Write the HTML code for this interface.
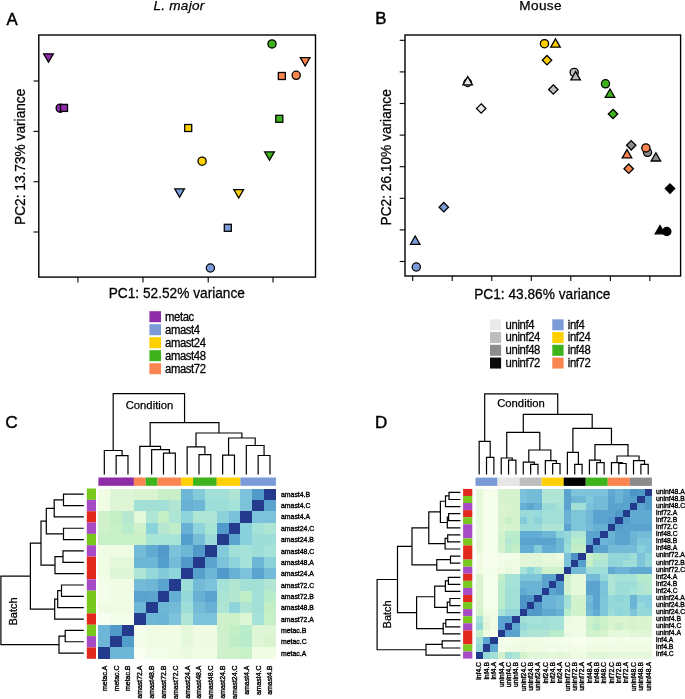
<!DOCTYPE html>
<html><head><meta charset="utf-8"><title>figure</title>
<style>
html,body{margin:0;padding:0;background:#fff;}
body{width:685px;height:699px;overflow:hidden;}
svg{display:block;will-change:transform;}
text{font-family:"Liberation Sans", sans-serif;fill:#000;stroke:#000;stroke-width:0.25px;}
</style></head><body>
<svg width="685" height="699" viewBox="0 0 685 699">
<rect x="0" y="0" width="685" height="699" fill="#fff"/>
<text x="0" y="0" text-anchor="start" style="font-size:16.8px;stroke-width:0.45px;" transform="translate(6.4 24.6) scale(1 0.98)">A</text>
<text x="179" y="10.4" text-anchor="middle" style="font-size:13.6px;letter-spacing:0.25px;font-style:italic;">L. major</text>
<rect x="38.8" y="35" width="276.7" height="242.1" fill="none" stroke="#000" stroke-width="1.4"/>
<line x1="33.5" y1="81" x2="38.8" y2="81" stroke="#000" stroke-width="1.1"/>
<line x1="33.5" y1="131.4" x2="38.8" y2="131.4" stroke="#000" stroke-width="1.1"/>
<line x1="33.5" y1="181.7" x2="38.8" y2="181.7" stroke="#000" stroke-width="1.1"/>
<line x1="33.5" y1="232" x2="38.8" y2="232" stroke="#000" stroke-width="1.1"/>
<line x1="77.9" y1="277.1" x2="77.9" y2="282.4" stroke="#000" stroke-width="1.1"/>
<line x1="143" y1="277.1" x2="143" y2="282.4" stroke="#000" stroke-width="1.1"/>
<line x1="208.2" y1="277.1" x2="208.2" y2="282.4" stroke="#000" stroke-width="1.1"/>
<line x1="273" y1="277.1" x2="273" y2="282.4" stroke="#000" stroke-width="1.1"/>
<text x="0" y="0" text-anchor="middle" style="font-size:13.7px;" transform="translate(176.8 298.4) scale(1 1.08)">PC1: 52.52% variance</text>
<text x="0" y="0" text-anchor="middle" style="font-size:13.7px;" transform="translate(25 156.8) rotate(-90) scale(1 1.08)">PC2: 13.73% variance</text>
<circle cx="60.2" cy="108.2" r="4.1" fill="#8E2CA8" stroke="#000" stroke-width="1.3"/>
<rect x="60.5" y="104.4" width="7" height="7" fill="#8E2CA8" stroke="#000" stroke-width="1.3"/>
<polygon points="43.65,53.8 53.35,53.8 48.5,62.2" fill="#8E2CA8" stroke="#000" stroke-width="1.3" stroke-linejoin="miter"/>
<circle cx="210.4" cy="268" r="4.1" fill="#7B9BD8" stroke="#000" stroke-width="1.3"/>
<rect x="224.3" y="224.3" width="7" height="7" fill="#7B9BD8" stroke="#000" stroke-width="1.3"/>
<polygon points="174.75,188.9 184.45,188.9 179.6,197.3" fill="#7B9BD8" stroke="#000" stroke-width="1.3" stroke-linejoin="miter"/>
<circle cx="202.1" cy="161.2" r="4.1" fill="#FFD000" stroke="#000" stroke-width="1.3"/>
<rect x="184.7" y="124.5" width="7" height="7" fill="#FFD000" stroke="#000" stroke-width="1.3"/>
<polygon points="233.85,189.6 243.55,189.6 238.7,198" fill="#FFD000" stroke="#000" stroke-width="1.3" stroke-linejoin="miter"/>
<circle cx="272" cy="43.9" r="4.1" fill="#3FB31C" stroke="#000" stroke-width="1.3"/>
<rect x="275.8" y="115.3" width="7" height="7" fill="#3FB31C" stroke="#000" stroke-width="1.3"/>
<polygon points="264.65,151.9 274.35,151.9 269.5,160.3" fill="#3FB31C" stroke="#000" stroke-width="1.3" stroke-linejoin="miter"/>
<circle cx="296.2" cy="75.3" r="4.1" fill="#FB8550" stroke="#000" stroke-width="1.3"/>
<rect x="278.35" y="72.5" width="7" height="7" fill="#FB8550" stroke="#000" stroke-width="1.3"/>
<polygon points="300.3,57.6 310,57.6 305.15,66" fill="#FB8550" stroke="#000" stroke-width="1.3" stroke-linejoin="miter"/>
<rect x="149.4" y="311.2" width="11.6" height="11" fill="#8E2CA8"/>
<text x="0" y="0" text-anchor="start" style="font-size:11.3px;letter-spacing:-0.38px;" transform="translate(165 320.8) scale(1 1.05)">metac</text>
<rect x="149.4" y="324.2" width="11.6" height="11" fill="#7B9BD8"/>
<text x="0" y="0" text-anchor="start" style="font-size:11.3px;letter-spacing:-0.38px;" transform="translate(165 333.8) scale(1 1.05)">amast4</text>
<rect x="149.4" y="337.2" width="11.6" height="11" fill="#FFD000"/>
<text x="0" y="0" text-anchor="start" style="font-size:11.3px;letter-spacing:-0.38px;" transform="translate(165 346.8) scale(1 1.05)">amast24</text>
<rect x="149.4" y="350.2" width="11.6" height="11" fill="#3FB31C"/>
<text x="0" y="0" text-anchor="start" style="font-size:11.3px;letter-spacing:-0.38px;" transform="translate(165 359.8) scale(1 1.05)">amast48</text>
<rect x="149.4" y="363.2" width="11.6" height="11" fill="#FB8550"/>
<text x="0" y="0" text-anchor="start" style="font-size:11.3px;letter-spacing:-0.38px;" transform="translate(165 372.8) scale(1 1.05)">amast72</text>
<text x="0" y="0" text-anchor="start" style="font-size:16.8px;stroke-width:0.45px;" transform="translate(375.3 24.2) scale(1 0.98)">B</text>
<text x="540.6" y="9.9" text-anchor="middle" style="font-size:13.6px;letter-spacing:0.35px;">Mouse</text>
<rect x="405" y="35" width="275.6" height="241" fill="none" stroke="#000" stroke-width="1.4"/>
<line x1="399.7" y1="40.3" x2="405" y2="40.3" stroke="#000" stroke-width="1.1"/>
<line x1="399.7" y1="71.9" x2="405" y2="71.9" stroke="#000" stroke-width="1.1"/>
<line x1="399.7" y1="103.5" x2="405" y2="103.5" stroke="#000" stroke-width="1.1"/>
<line x1="399.7" y1="135.1" x2="405" y2="135.1" stroke="#000" stroke-width="1.1"/>
<line x1="399.7" y1="166.7" x2="405" y2="166.7" stroke="#000" stroke-width="1.1"/>
<line x1="399.7" y1="198.3" x2="405" y2="198.3" stroke="#000" stroke-width="1.1"/>
<line x1="399.7" y1="229.9" x2="405" y2="229.9" stroke="#000" stroke-width="1.1"/>
<line x1="399.7" y1="261.5" x2="405" y2="261.5" stroke="#000" stroke-width="1.1"/>
<line x1="412.7" y1="276" x2="412.7" y2="281" stroke="#000" stroke-width="1.1"/>
<line x1="452.23" y1="276" x2="452.23" y2="281" stroke="#000" stroke-width="1.1"/>
<line x1="491.76" y1="276" x2="491.76" y2="281" stroke="#000" stroke-width="1.1"/>
<line x1="531.29" y1="276" x2="531.29" y2="281" stroke="#000" stroke-width="1.1"/>
<line x1="570.82" y1="276" x2="570.82" y2="281" stroke="#000" stroke-width="1.1"/>
<line x1="610.35" y1="276" x2="610.35" y2="281" stroke="#000" stroke-width="1.1"/>
<line x1="649.88" y1="276" x2="649.88" y2="281" stroke="#000" stroke-width="1.1"/>
<text x="0" y="0" text-anchor="middle" style="font-size:13.7px;" transform="translate(542.3 298.6) scale(1 1.08)">PC1: 43.86% variance</text>
<text x="0" y="0" text-anchor="middle" style="font-size:13.7px;" transform="translate(391.4 157.3) rotate(-90) scale(1 1.08)">PC2: 26.10% variance</text>
<circle cx="467.7" cy="82.7" r="3.8" fill="#EAEAEA" stroke="#000" stroke-width="1.3"/>
<polygon points="462.95,84.9 472.45,84.9 467.7,76.6" fill="#EAEAEA" stroke="#000" stroke-width="1.3" stroke-linejoin="miter"/>
<polygon points="481.2,103.8 485.9,108.5 481.2,113.2 476.5,108.5" fill="#EAEAEA" stroke="#000" stroke-width="1.3"/>
<circle cx="574.2" cy="72.4" r="4.1" fill="#BEBEBE" stroke="#000" stroke-width="1.3"/>
<polygon points="570.85,79.9 580.35,79.9 575.6,71.6" fill="#BEBEBE" stroke="#000" stroke-width="1.3" stroke-linejoin="miter"/>
<polygon points="553.3,84.8 558,89.5 553.3,94.2 548.6,89.5" fill="#BEBEBE" stroke="#000" stroke-width="1.3"/>
<circle cx="647.5" cy="152.3" r="4.1" fill="#8C8C8C" stroke="#000" stroke-width="1.3"/>
<polygon points="651.15,161 660.65,161 655.9,152.7" fill="#8C8C8C" stroke="#000" stroke-width="1.3" stroke-linejoin="miter"/>
<polygon points="631.2,140.6 635.9,145.3 631.2,150 626.5,145.3" fill="#8C8C8C" stroke="#000" stroke-width="1.3"/>
<circle cx="666.8" cy="231.5" r="4.1" fill="#000000" stroke="#000" stroke-width="1.3"/>
<polygon points="655.25,233.8 664.75,233.8 660,225.5" fill="#000000" stroke="#000" stroke-width="1.3" stroke-linejoin="miter"/>
<polygon points="670,183.9 674.7,188.6 670,193.3 665.3,188.6" fill="#000000" stroke="#000" stroke-width="1.3"/>
<circle cx="416.3" cy="267" r="4.1" fill="#7B9BD8" stroke="#000" stroke-width="1.3"/>
<polygon points="410.45,244.3 419.95,244.3 415.2,236" fill="#7B9BD8" stroke="#000" stroke-width="1.3" stroke-linejoin="miter"/>
<polygon points="443.8,202.5 448.5,207.2 443.8,211.9 439.1,207.2" fill="#7B9BD8" stroke="#000" stroke-width="1.3"/>
<circle cx="544.5" cy="43.7" r="4.1" fill="#FFD000" stroke="#000" stroke-width="1.3"/>
<polygon points="550.75,47.2 560.25,47.2 555.5,38.9" fill="#FFD000" stroke="#000" stroke-width="1.3" stroke-linejoin="miter"/>
<polygon points="547,55.5 551.7,60.2 547,64.9 542.3,60.2" fill="#FFD000" stroke="#000" stroke-width="1.3"/>
<circle cx="605.5" cy="83.8" r="4.1" fill="#3FB31C" stroke="#000" stroke-width="1.3"/>
<polygon points="605.25,97.3 614.75,97.3 610,89" fill="#3FB31C" stroke="#000" stroke-width="1.3" stroke-linejoin="miter"/>
<polygon points="613,109.3 617.7,114 613,118.7 608.3,114" fill="#3FB31C" stroke="#000" stroke-width="1.3"/>
<circle cx="645.9" cy="147.9" r="4.1" fill="#FB8550" stroke="#000" stroke-width="1.3"/>
<polygon points="622.25,157.9 631.75,157.9 627,149.6" fill="#FB8550" stroke="#000" stroke-width="1.3" stroke-linejoin="miter"/>
<polygon points="628.7,164 633.4,168.7 628.7,173.4 624,168.7" fill="#FB8550" stroke="#000" stroke-width="1.3"/>
<rect x="490" y="319.3" width="11.1" height="11" fill="#EAEAEA"/>
<text x="0" y="0" text-anchor="start" style="font-size:11.3px;letter-spacing:-0.38px;" transform="translate(505.6 328.7) scale(1 1.05)">uninf4</text>
<rect x="490" y="332.05" width="11.1" height="11" fill="#BEBEBE"/>
<text x="0" y="0" text-anchor="start" style="font-size:11.3px;letter-spacing:-0.38px;" transform="translate(505.6 341.45) scale(1 1.05)">uninf24</text>
<rect x="490" y="344.8" width="11.1" height="11" fill="#8C8C8C"/>
<text x="0" y="0" text-anchor="start" style="font-size:11.3px;letter-spacing:-0.38px;" transform="translate(505.6 354.2) scale(1 1.05)">uninf48</text>
<rect x="490" y="357.55" width="11.1" height="11" fill="#0A0A0A"/>
<text x="0" y="0" text-anchor="start" style="font-size:11.3px;letter-spacing:-0.38px;" transform="translate(505.6 366.95) scale(1 1.05)">uninf72</text>
<rect x="552.3" y="319.3" width="11.3" height="11" fill="#7B9BD8"/>
<text x="0" y="0" text-anchor="start" style="font-size:11.3px;letter-spacing:-0.38px;" transform="translate(567.8 328.7) scale(1 1.05)">inf4</text>
<rect x="552.3" y="332.05" width="11.3" height="11" fill="#FFD000"/>
<text x="0" y="0" text-anchor="start" style="font-size:11.3px;letter-spacing:-0.38px;" transform="translate(567.8 341.45) scale(1 1.05)">inf24</text>
<rect x="552.3" y="344.8" width="11.3" height="11" fill="#3FB31C"/>
<text x="0" y="0" text-anchor="start" style="font-size:11.3px;letter-spacing:-0.38px;" transform="translate(567.8 354.2) scale(1 1.05)">inf48</text>
<rect x="552.3" y="357.55" width="11.3" height="11" fill="#FB8550"/>
<text x="0" y="0" text-anchor="start" style="font-size:11.3px;letter-spacing:-0.38px;" transform="translate(567.8 366.95) scale(1 1.05)">inf72</text>
<text x="0" y="0" text-anchor="start" style="font-size:17.3px;stroke-width:0.45px;" transform="translate(5.2 427.9) scale(1 0.99)">C</text>
<g shape-rendering="crispEdges">
<rect x="98.4" y="488.5" width="12.23" height="11.75" fill="#F1FCE5"/>
<rect x="110.23" y="488.5" width="12.23" height="11.75" fill="#DEF6D5"/>
<rect x="122.07" y="488.5" width="12.23" height="11.75" fill="#DEF6D5"/>
<rect x="133.9" y="488.5" width="12.23" height="11.75" fill="#DAF4D0"/>
<rect x="145.73" y="488.5" width="12.23" height="11.75" fill="#DAF4D0"/>
<rect x="157.57" y="488.5" width="12.23" height="11.75" fill="#C8F0C8"/>
<rect x="169.4" y="488.5" width="12.23" height="11.75" fill="#C8F0C8"/>
<rect x="181.23" y="488.5" width="12.23" height="11.75" fill="#6EB6D6"/>
<rect x="193.07" y="488.5" width="12.23" height="11.75" fill="#83CADB"/>
<rect x="204.9" y="488.5" width="12.23" height="11.75" fill="#A2E0D7"/>
<rect x="216.73" y="488.5" width="12.23" height="11.75" fill="#A2E0D7"/>
<rect x="228.57" y="488.5" width="12.23" height="11.75" fill="#AFE5D4"/>
<rect x="240.4" y="488.5" width="12.23" height="11.75" fill="#7CC2DA"/>
<rect x="252.23" y="488.5" width="12.23" height="11.75" fill="#5099C9"/>
<rect x="264.07" y="488.5" width="12.23" height="11.75" fill="#243A8C"/>
<rect x="98.4" y="499.85" width="12.23" height="11.75" fill="#F1FCE5"/>
<rect x="110.23" y="499.85" width="12.23" height="11.75" fill="#DEF6D5"/>
<rect x="122.07" y="499.85" width="12.23" height="11.75" fill="#DEF6D5"/>
<rect x="133.9" y="499.85" width="12.23" height="11.75" fill="#A2E0D7"/>
<rect x="145.73" y="499.85" width="12.23" height="11.75" fill="#A2E0D7"/>
<rect x="157.57" y="499.85" width="12.23" height="11.75" fill="#A2E0D7"/>
<rect x="169.4" y="499.85" width="12.23" height="11.75" fill="#B2E6D3"/>
<rect x="181.23" y="499.85" width="12.23" height="11.75" fill="#68B1D4"/>
<rect x="193.07" y="499.85" width="12.23" height="11.75" fill="#6EB6D6"/>
<rect x="204.9" y="499.85" width="12.23" height="11.75" fill="#9EDED8"/>
<rect x="216.73" y="499.85" width="12.23" height="11.75" fill="#9EDED8"/>
<rect x="228.57" y="499.85" width="12.23" height="11.75" fill="#A5E2D7"/>
<rect x="240.4" y="499.85" width="12.23" height="11.75" fill="#7CC2DA"/>
<rect x="252.23" y="499.85" width="12.23" height="11.75" fill="#243A8C"/>
<rect x="264.07" y="499.85" width="12.23" height="11.75" fill="#59A3CE"/>
<rect x="98.4" y="511.21" width="12.23" height="11.75" fill="#CEF1CB"/>
<rect x="110.23" y="511.21" width="12.23" height="11.75" fill="#C3EEC6"/>
<rect x="122.07" y="511.21" width="12.23" height="11.75" fill="#B8E7D1"/>
<rect x="133.9" y="511.21" width="12.23" height="11.75" fill="#E3F7D9"/>
<rect x="145.73" y="511.21" width="12.23" height="11.75" fill="#AFE5D4"/>
<rect x="157.57" y="511.21" width="12.23" height="11.75" fill="#C3EEC6"/>
<rect x="169.4" y="511.21" width="12.23" height="11.75" fill="#AFE5D4"/>
<rect x="181.23" y="511.21" width="12.23" height="11.75" fill="#8ED4DB"/>
<rect x="193.07" y="511.21" width="12.23" height="11.75" fill="#AFE5D4"/>
<rect x="204.9" y="511.21" width="12.23" height="11.75" fill="#AFE5D4"/>
<rect x="216.73" y="511.21" width="12.23" height="11.75" fill="#8BD2DB"/>
<rect x="228.57" y="511.21" width="12.23" height="11.75" fill="#79C0D9"/>
<rect x="240.4" y="511.21" width="12.23" height="11.75" fill="#243A8C"/>
<rect x="252.23" y="511.21" width="12.23" height="11.75" fill="#7CC2DA"/>
<rect x="264.07" y="511.21" width="12.23" height="11.75" fill="#7CC2DA"/>
<rect x="98.4" y="522.56" width="12.23" height="11.75" fill="#CEF1CB"/>
<rect x="110.23" y="522.56" width="12.23" height="11.75" fill="#C8F0C8"/>
<rect x="122.07" y="522.56" width="12.23" height="11.75" fill="#B9ECCA"/>
<rect x="133.9" y="522.56" width="12.23" height="11.75" fill="#CEF1CB"/>
<rect x="145.73" y="522.56" width="12.23" height="11.75" fill="#8BD2DB"/>
<rect x="157.57" y="522.56" width="12.23" height="11.75" fill="#B8E7D1"/>
<rect x="169.4" y="522.56" width="12.23" height="11.75" fill="#BEEDC8"/>
<rect x="181.23" y="522.56" width="12.23" height="11.75" fill="#68B1D4"/>
<rect x="193.07" y="522.56" width="12.23" height="11.75" fill="#8ED4DB"/>
<rect x="204.9" y="522.56" width="12.23" height="11.75" fill="#A8E4D6"/>
<rect x="216.73" y="522.56" width="12.23" height="11.75" fill="#5099C9"/>
<rect x="228.57" y="522.56" width="12.23" height="11.75" fill="#243A8C"/>
<rect x="240.4" y="522.56" width="12.23" height="11.75" fill="#88D0DC"/>
<rect x="252.23" y="522.56" width="12.23" height="11.75" fill="#A5E2D7"/>
<rect x="264.07" y="522.56" width="12.23" height="11.75" fill="#AFE5D4"/>
<rect x="98.4" y="533.91" width="12.23" height="11.75" fill="#C8F0C8"/>
<rect x="110.23" y="533.91" width="12.23" height="11.75" fill="#C8F0C8"/>
<rect x="122.07" y="533.91" width="12.23" height="11.75" fill="#C8F0C8"/>
<rect x="133.9" y="533.91" width="12.23" height="11.75" fill="#C8F0C8"/>
<rect x="145.73" y="533.91" width="12.23" height="11.75" fill="#A8E4D6"/>
<rect x="157.57" y="533.91" width="12.23" height="11.75" fill="#A8E4D6"/>
<rect x="169.4" y="533.91" width="12.23" height="11.75" fill="#A8E4D6"/>
<rect x="181.23" y="533.91" width="12.23" height="11.75" fill="#549ECB"/>
<rect x="193.07" y="533.91" width="12.23" height="11.75" fill="#76BDD8"/>
<rect x="204.9" y="533.91" width="12.23" height="11.75" fill="#9BDCD8"/>
<rect x="216.73" y="533.91" width="12.23" height="11.75" fill="#243A8C"/>
<rect x="228.57" y="533.91" width="12.23" height="11.75" fill="#59A3CE"/>
<rect x="240.4" y="533.91" width="12.23" height="11.75" fill="#88D0DC"/>
<rect x="252.23" y="533.91" width="12.23" height="11.75" fill="#9EDED8"/>
<rect x="264.07" y="533.91" width="12.23" height="11.75" fill="#9EDED8"/>
<rect x="98.4" y="545.27" width="12.23" height="11.75" fill="#F1FCE7"/>
<rect x="110.23" y="545.27" width="12.23" height="11.75" fill="#EFFBE2"/>
<rect x="122.07" y="545.27" width="12.23" height="11.75" fill="#EFFBE2"/>
<rect x="133.9" y="545.27" width="12.23" height="11.75" fill="#74BBD8"/>
<rect x="145.73" y="545.27" width="12.23" height="11.75" fill="#60AAD2"/>
<rect x="157.57" y="545.27" width="12.23" height="11.75" fill="#5099C9"/>
<rect x="169.4" y="545.27" width="12.23" height="11.75" fill="#7CC2DA"/>
<rect x="181.23" y="545.27" width="12.23" height="11.75" fill="#6EB6D6"/>
<rect x="193.07" y="545.27" width="12.23" height="11.75" fill="#5099C9"/>
<rect x="204.9" y="545.27" width="12.23" height="11.75" fill="#243A8C"/>
<rect x="216.73" y="545.27" width="12.23" height="11.75" fill="#83CADB"/>
<rect x="228.57" y="545.27" width="12.23" height="11.75" fill="#A2E0D7"/>
<rect x="240.4" y="545.27" width="12.23" height="11.75" fill="#A5E2D7"/>
<rect x="252.23" y="545.27" width="12.23" height="11.75" fill="#9EDED8"/>
<rect x="264.07" y="545.27" width="12.23" height="11.75" fill="#A5E2D7"/>
<rect x="98.4" y="556.62" width="12.23" height="11.75" fill="#F1FCE5"/>
<rect x="110.23" y="556.62" width="12.23" height="11.75" fill="#E5F8DC"/>
<rect x="122.07" y="556.62" width="12.23" height="11.75" fill="#E5F8DC"/>
<rect x="133.9" y="556.62" width="12.23" height="11.75" fill="#6EB6D6"/>
<rect x="145.73" y="556.62" width="12.23" height="11.75" fill="#6EB6D6"/>
<rect x="157.57" y="556.62" width="12.23" height="11.75" fill="#549ECB"/>
<rect x="169.4" y="556.62" width="12.23" height="11.75" fill="#74BBD8"/>
<rect x="181.23" y="556.62" width="12.23" height="11.75" fill="#5099C9"/>
<rect x="193.07" y="556.62" width="12.23" height="11.75" fill="#243A8C"/>
<rect x="204.9" y="556.62" width="12.23" height="11.75" fill="#59A3CE"/>
<rect x="216.73" y="556.62" width="12.23" height="11.75" fill="#7CC2DA"/>
<rect x="228.57" y="556.62" width="12.23" height="11.75" fill="#8ED4DB"/>
<rect x="240.4" y="556.62" width="12.23" height="11.75" fill="#A5E2D7"/>
<rect x="252.23" y="556.62" width="12.23" height="11.75" fill="#6EB6D6"/>
<rect x="264.07" y="556.62" width="12.23" height="11.75" fill="#8BD2DB"/>
<rect x="98.4" y="567.97" width="12.23" height="11.75" fill="#F1FCE5"/>
<rect x="110.23" y="567.97" width="12.23" height="11.75" fill="#DEF6D5"/>
<rect x="122.07" y="567.97" width="12.23" height="11.75" fill="#DEF6D5"/>
<rect x="133.9" y="567.97" width="12.23" height="11.75" fill="#AFE5D4"/>
<rect x="145.73" y="567.97" width="12.23" height="11.75" fill="#95D8DA"/>
<rect x="157.57" y="567.97" width="12.23" height="11.75" fill="#83CADB"/>
<rect x="169.4" y="567.97" width="12.23" height="11.75" fill="#8ED4DB"/>
<rect x="181.23" y="567.97" width="12.23" height="11.75" fill="#243A8C"/>
<rect x="193.07" y="567.97" width="12.23" height="11.75" fill="#56A0CC"/>
<rect x="204.9" y="567.97" width="12.23" height="11.75" fill="#6EB6D6"/>
<rect x="216.73" y="567.97" width="12.23" height="11.75" fill="#5099C9"/>
<rect x="228.57" y="567.97" width="12.23" height="11.75" fill="#68B1D4"/>
<rect x="240.4" y="567.97" width="12.23" height="11.75" fill="#7CC2DA"/>
<rect x="252.23" y="567.97" width="12.23" height="11.75" fill="#59A3CE"/>
<rect x="264.07" y="567.97" width="12.23" height="11.75" fill="#74BBD8"/>
<rect x="98.4" y="579.33" width="12.23" height="11.75" fill="#F3FDE9"/>
<rect x="110.23" y="579.33" width="12.23" height="11.75" fill="#F1FCE5"/>
<rect x="122.07" y="579.33" width="12.23" height="11.75" fill="#F1FCE5"/>
<rect x="133.9" y="579.33" width="12.23" height="11.75" fill="#74BBD8"/>
<rect x="145.73" y="579.33" width="12.23" height="11.75" fill="#6EB6D6"/>
<rect x="157.57" y="579.33" width="12.23" height="11.75" fill="#59A3CE"/>
<rect x="169.4" y="579.33" width="12.23" height="11.75" fill="#243A8C"/>
<rect x="181.23" y="579.33" width="12.23" height="11.75" fill="#9EDED8"/>
<rect x="193.07" y="579.33" width="12.23" height="11.75" fill="#74BBD8"/>
<rect x="204.9" y="579.33" width="12.23" height="11.75" fill="#7CC2DA"/>
<rect x="216.73" y="579.33" width="12.23" height="11.75" fill="#A5E2D7"/>
<rect x="228.57" y="579.33" width="12.23" height="11.75" fill="#B2E6D3"/>
<rect x="240.4" y="579.33" width="12.23" height="11.75" fill="#A2E0D7"/>
<rect x="252.23" y="579.33" width="12.23" height="11.75" fill="#A2E0D7"/>
<rect x="264.07" y="579.33" width="12.23" height="11.75" fill="#B2E6D3"/>
<rect x="98.4" y="590.68" width="12.23" height="11.75" fill="#F3FDE9"/>
<rect x="110.23" y="590.68" width="12.23" height="11.75" fill="#F1FCE5"/>
<rect x="122.07" y="590.68" width="12.23" height="11.75" fill="#F1FCE5"/>
<rect x="133.9" y="590.68" width="12.23" height="11.75" fill="#59A3CE"/>
<rect x="145.73" y="590.68" width="12.23" height="11.75" fill="#5BA5CF"/>
<rect x="157.57" y="590.68" width="12.23" height="11.75" fill="#243A8C"/>
<rect x="169.4" y="590.68" width="12.23" height="11.75" fill="#66AFD4"/>
<rect x="181.23" y="590.68" width="12.23" height="11.75" fill="#95D8DA"/>
<rect x="193.07" y="590.68" width="12.23" height="11.75" fill="#68B1D4"/>
<rect x="204.9" y="590.68" width="12.23" height="11.75" fill="#59A3CE"/>
<rect x="216.73" y="590.68" width="12.23" height="11.75" fill="#AAE4D5"/>
<rect x="228.57" y="590.68" width="12.23" height="11.75" fill="#B4E6D2"/>
<rect x="240.4" y="590.68" width="12.23" height="11.75" fill="#BEEDC8"/>
<rect x="252.23" y="590.68" width="12.23" height="11.75" fill="#A2E0D7"/>
<rect x="264.07" y="590.68" width="12.23" height="11.75" fill="#B9ECCA"/>
<rect x="98.4" y="602.03" width="12.23" height="11.75" fill="#EFFBE2"/>
<rect x="110.23" y="602.03" width="12.23" height="11.75" fill="#EFFBE2"/>
<rect x="122.07" y="602.03" width="12.23" height="11.75" fill="#EFFBE2"/>
<rect x="133.9" y="602.03" width="12.23" height="11.75" fill="#6EB6D6"/>
<rect x="145.73" y="602.03" width="12.23" height="11.75" fill="#243A8C"/>
<rect x="157.57" y="602.03" width="12.23" height="11.75" fill="#6EB6D6"/>
<rect x="169.4" y="602.03" width="12.23" height="11.75" fill="#74BBD8"/>
<rect x="181.23" y="602.03" width="12.23" height="11.75" fill="#9EDED8"/>
<rect x="193.07" y="602.03" width="12.23" height="11.75" fill="#74BBD8"/>
<rect x="204.9" y="602.03" width="12.23" height="11.75" fill="#68B1D4"/>
<rect x="216.73" y="602.03" width="12.23" height="11.75" fill="#AFE5D4"/>
<rect x="228.57" y="602.03" width="12.23" height="11.75" fill="#8ED4DB"/>
<rect x="240.4" y="602.03" width="12.23" height="11.75" fill="#AFE5D4"/>
<rect x="252.23" y="602.03" width="12.23" height="11.75" fill="#A2E0D7"/>
<rect x="264.07" y="602.03" width="12.23" height="11.75" fill="#C3EEC6"/>
<rect x="98.4" y="613.39" width="12.23" height="11.75" fill="#F9FFF0"/>
<rect x="110.23" y="613.39" width="12.23" height="11.75" fill="#F4FDEA"/>
<rect x="122.07" y="613.39" width="12.23" height="11.75" fill="#F4FDEA"/>
<rect x="133.9" y="613.39" width="12.23" height="11.75" fill="#243A8C"/>
<rect x="145.73" y="613.39" width="12.23" height="11.75" fill="#6EB6D6"/>
<rect x="157.57" y="613.39" width="12.23" height="11.75" fill="#6BB4D5"/>
<rect x="169.4" y="613.39" width="12.23" height="11.75" fill="#7CC2DA"/>
<rect x="181.23" y="613.39" width="12.23" height="11.75" fill="#AFE5D4"/>
<rect x="193.07" y="613.39" width="12.23" height="11.75" fill="#7CC2DA"/>
<rect x="204.9" y="613.39" width="12.23" height="11.75" fill="#7CC2DA"/>
<rect x="216.73" y="613.39" width="12.23" height="11.75" fill="#CEF1CB"/>
<rect x="228.57" y="613.39" width="12.23" height="11.75" fill="#CEF1CB"/>
<rect x="240.4" y="613.39" width="12.23" height="11.75" fill="#DEF6D5"/>
<rect x="252.23" y="613.39" width="12.23" height="11.75" fill="#A5E2D7"/>
<rect x="264.07" y="613.39" width="12.23" height="11.75" fill="#C8F0C8"/>
<rect x="98.4" y="624.74" width="12.23" height="11.75" fill="#6EB6D6"/>
<rect x="110.23" y="624.74" width="12.23" height="11.75" fill="#5099C9"/>
<rect x="122.07" y="624.74" width="12.23" height="11.75" fill="#243A8C"/>
<rect x="133.9" y="624.74" width="12.23" height="11.75" fill="#F4FDEA"/>
<rect x="145.73" y="624.74" width="12.23" height="11.75" fill="#F1FCE5"/>
<rect x="157.57" y="624.74" width="12.23" height="11.75" fill="#F1FCE5"/>
<rect x="169.4" y="624.74" width="12.23" height="11.75" fill="#F1FCE5"/>
<rect x="181.23" y="624.74" width="12.23" height="11.75" fill="#E5F8DC"/>
<rect x="193.07" y="624.74" width="12.23" height="11.75" fill="#EFFBE2"/>
<rect x="204.9" y="624.74" width="12.23" height="11.75" fill="#EFFBE2"/>
<rect x="216.73" y="624.74" width="12.23" height="11.75" fill="#CEF1CB"/>
<rect x="228.57" y="624.74" width="12.23" height="11.75" fill="#C3EEC6"/>
<rect x="240.4" y="624.74" width="12.23" height="11.75" fill="#B9ECCA"/>
<rect x="252.23" y="624.74" width="12.23" height="11.75" fill="#DEF6D5"/>
<rect x="264.07" y="624.74" width="12.23" height="11.75" fill="#DEF6D5"/>
<rect x="98.4" y="636.09" width="12.23" height="11.75" fill="#6EB6D6"/>
<rect x="110.23" y="636.09" width="12.23" height="11.75" fill="#243A8C"/>
<rect x="122.07" y="636.09" width="12.23" height="11.75" fill="#549ECB"/>
<rect x="133.9" y="636.09" width="12.23" height="11.75" fill="#F4FDEA"/>
<rect x="145.73" y="636.09" width="12.23" height="11.75" fill="#F1FCE5"/>
<rect x="157.57" y="636.09" width="12.23" height="11.75" fill="#F1FCE5"/>
<rect x="169.4" y="636.09" width="12.23" height="11.75" fill="#F1FCE5"/>
<rect x="181.23" y="636.09" width="12.23" height="11.75" fill="#E5F8DC"/>
<rect x="193.07" y="636.09" width="12.23" height="11.75" fill="#EFFBE2"/>
<rect x="204.9" y="636.09" width="12.23" height="11.75" fill="#EFFBE2"/>
<rect x="216.73" y="636.09" width="12.23" height="11.75" fill="#CEF1CB"/>
<rect x="228.57" y="636.09" width="12.23" height="11.75" fill="#BEEDC8"/>
<rect x="240.4" y="636.09" width="12.23" height="11.75" fill="#B9ECCA"/>
<rect x="252.23" y="636.09" width="12.23" height="11.75" fill="#DEF6D5"/>
<rect x="264.07" y="636.09" width="12.23" height="11.75" fill="#DAF4D0"/>
<rect x="98.4" y="647.45" width="12.23" height="11.75" fill="#243A8C"/>
<rect x="110.23" y="647.45" width="12.23" height="11.75" fill="#6EB6D6"/>
<rect x="122.07" y="647.45" width="12.23" height="11.75" fill="#6EB6D6"/>
<rect x="133.9" y="647.45" width="12.23" height="11.75" fill="#F9FFF0"/>
<rect x="145.73" y="647.45" width="12.23" height="11.75" fill="#F3FDE9"/>
<rect x="157.57" y="647.45" width="12.23" height="11.75" fill="#F3FDE9"/>
<rect x="169.4" y="647.45" width="12.23" height="11.75" fill="#F1FCE5"/>
<rect x="181.23" y="647.45" width="12.23" height="11.75" fill="#EBFAE0"/>
<rect x="193.07" y="647.45" width="12.23" height="11.75" fill="#F1FCE5"/>
<rect x="204.9" y="647.45" width="12.23" height="11.75" fill="#F1FCE5"/>
<rect x="216.73" y="647.45" width="12.23" height="11.75" fill="#CEF1CB"/>
<rect x="228.57" y="647.45" width="12.23" height="11.75" fill="#CEF1CB"/>
<rect x="240.4" y="647.45" width="12.23" height="11.75" fill="#C8F0C8"/>
<rect x="252.23" y="647.45" width="12.23" height="11.75" fill="#F1FCE5"/>
<rect x="264.07" y="647.45" width="12.23" height="11.75" fill="#F1FCE5"/>
</g>
<rect x="98.4" y="477.5" width="35.5" height="8.3" fill="#8E2CA8"/>
<rect x="133.9" y="477.5" width="11.83" height="8.3" fill="#FB8550"/>
<rect x="145.73" y="477.5" width="11.83" height="8.3" fill="#3FB31C"/>
<rect x="157.57" y="477.5" width="23.67" height="8.3" fill="#FB8550"/>
<rect x="181.23" y="477.5" width="11.83" height="8.3" fill="#FFD000"/>
<rect x="193.07" y="477.5" width="23.67" height="8.3" fill="#3FB31C"/>
<rect x="216.73" y="477.5" width="23.67" height="8.3" fill="#FFD000"/>
<rect x="240.4" y="477.5" width="35.5" height="8.3" fill="#7B9BD8"/>
<rect x="86.8" y="488.5" width="9.2" height="11.35" fill="#78C81E"/>
<rect x="86.8" y="499.85" width="9.2" height="11.35" fill="#A64AC6"/>
<rect x="86.8" y="511.21" width="9.2" height="11.35" fill="#E2291E"/>
<rect x="86.8" y="522.56" width="9.2" height="11.35" fill="#A64AC6"/>
<rect x="86.8" y="533.91" width="9.2" height="11.35" fill="#78C81E"/>
<rect x="86.8" y="545.27" width="9.2" height="11.35" fill="#A64AC6"/>
<rect x="86.8" y="556.62" width="9.2" height="22.71" fill="#E2291E"/>
<rect x="86.8" y="579.33" width="9.2" height="11.35" fill="#A64AC6"/>
<rect x="86.8" y="590.68" width="9.2" height="22.71" fill="#78C81E"/>
<rect x="86.8" y="613.39" width="9.2" height="11.35" fill="#E2291E"/>
<rect x="86.8" y="624.74" width="9.2" height="11.35" fill="#78C81E"/>
<rect x="86.8" y="636.09" width="9.2" height="11.35" fill="#A64AC6"/>
<rect x="86.8" y="647.45" width="9.2" height="11.35" fill="#E2291E"/>
<text x="281" y="496.78" text-anchor="start" style="font-size:6.9px;stroke-width:0.35px;">amast4.B</text>
<text x="281" y="508.13" text-anchor="start" style="font-size:6.9px;stroke-width:0.35px;">amast4.C</text>
<text x="281" y="519.48" text-anchor="start" style="font-size:6.9px;stroke-width:0.35px;">amast4.A</text>
<text x="281" y="530.84" text-anchor="start" style="font-size:6.9px;stroke-width:0.35px;">amast24.C</text>
<text x="281" y="542.19" text-anchor="start" style="font-size:6.9px;stroke-width:0.35px;">amast24.B</text>
<text x="281" y="553.54" text-anchor="start" style="font-size:6.9px;stroke-width:0.35px;">amast48.C</text>
<text x="281" y="564.9" text-anchor="start" style="font-size:6.9px;stroke-width:0.35px;">amast48.A</text>
<text x="281" y="576.25" text-anchor="start" style="font-size:6.9px;stroke-width:0.35px;">amast24.A</text>
<text x="281" y="587.6" text-anchor="start" style="font-size:6.9px;stroke-width:0.35px;">amast72.C</text>
<text x="281" y="598.96" text-anchor="start" style="font-size:6.9px;stroke-width:0.35px;">amast72.B</text>
<text x="281" y="610.31" text-anchor="start" style="font-size:6.9px;stroke-width:0.35px;">amast48.B</text>
<text x="281" y="621.66" text-anchor="start" style="font-size:6.9px;stroke-width:0.35px;">amast72.A</text>
<text x="281" y="633.02" text-anchor="start" style="font-size:6.9px;stroke-width:0.35px;">metac.B</text>
<text x="281" y="644.37" text-anchor="start" style="font-size:6.9px;stroke-width:0.35px;">metac.C</text>
<text x="281" y="655.72" text-anchor="start" style="font-size:6.9px;stroke-width:0.35px;">metac.A</text>
<text x="106.72" y="665.6" text-anchor="end" style="font-size:6.9px;stroke-width:0.35px;" transform="rotate(-90 106.72 665.6)">metac.A</text>
<text x="118.55" y="665.6" text-anchor="end" style="font-size:6.9px;stroke-width:0.35px;" transform="rotate(-90 118.55 665.6)">metac.C</text>
<text x="130.38" y="665.6" text-anchor="end" style="font-size:6.9px;stroke-width:0.35px;" transform="rotate(-90 130.38 665.6)">metac.B</text>
<text x="142.22" y="665.6" text-anchor="end" style="font-size:6.9px;stroke-width:0.35px;" transform="rotate(-90 142.22 665.6)">amast72.A</text>
<text x="154.05" y="665.6" text-anchor="end" style="font-size:6.9px;stroke-width:0.35px;" transform="rotate(-90 154.05 665.6)">amast48.B</text>
<text x="165.88" y="665.6" text-anchor="end" style="font-size:6.9px;stroke-width:0.35px;" transform="rotate(-90 165.88 665.6)">amast72.B</text>
<text x="177.72" y="665.6" text-anchor="end" style="font-size:6.9px;stroke-width:0.35px;" transform="rotate(-90 177.72 665.6)">amast72.C</text>
<text x="189.55" y="665.6" text-anchor="end" style="font-size:6.9px;stroke-width:0.35px;" transform="rotate(-90 189.55 665.6)">amast24.A</text>
<text x="201.38" y="665.6" text-anchor="end" style="font-size:6.9px;stroke-width:0.35px;" transform="rotate(-90 201.38 665.6)">amast48.A</text>
<text x="213.22" y="665.6" text-anchor="end" style="font-size:6.9px;stroke-width:0.35px;" transform="rotate(-90 213.22 665.6)">amast48.C</text>
<text x="225.05" y="665.6" text-anchor="end" style="font-size:6.9px;stroke-width:0.35px;" transform="rotate(-90 225.05 665.6)">amast24.B</text>
<text x="236.88" y="665.6" text-anchor="end" style="font-size:6.9px;stroke-width:0.35px;" transform="rotate(-90 236.88 665.6)">amast24.C</text>
<text x="248.72" y="665.6" text-anchor="end" style="font-size:6.9px;stroke-width:0.35px;" transform="rotate(-90 248.72 665.6)">amast4.A</text>
<text x="260.55" y="665.6" text-anchor="end" style="font-size:6.9px;stroke-width:0.35px;" transform="rotate(-90 260.55 665.6)">amast4.C</text>
<text x="272.38" y="665.6" text-anchor="end" style="font-size:6.9px;stroke-width:0.35px;" transform="rotate(-90 272.38 665.6)">amast4.B</text>
<polyline points="116.15,474.6 116.15,455.7 127.98,455.7 127.98,474.6" fill="none" stroke="#000" stroke-width="1.2"/>
<polyline points="104.32,474.6 104.32,450.5 122.07,450.5 122.07,455.7" fill="none" stroke="#000" stroke-width="1.2"/>
<polyline points="163.48,474.6 163.48,453.2 175.32,453.2 175.32,474.6" fill="none" stroke="#000" stroke-width="1.2"/>
<polyline points="151.65,474.6 151.65,449.6 169.4,449.6 169.4,453.2" fill="none" stroke="#000" stroke-width="1.2"/>
<polyline points="139.82,474.6 139.82,446.3 160.53,446.3 160.53,449.6" fill="none" stroke="#000" stroke-width="1.2"/>
<polyline points="198.98,474.6 198.98,454.6 210.82,454.6 210.82,474.6" fill="none" stroke="#000" stroke-width="1.2"/>
<polyline points="187.15,474.6 187.15,446.9 204.9,446.9 204.9,454.6" fill="none" stroke="#000" stroke-width="1.2"/>
<polyline points="222.65,474.6 222.65,455.2 234.48,455.2 234.48,474.6" fill="none" stroke="#000" stroke-width="1.2"/>
<polyline points="258.15,474.6 258.15,455.5 269.98,455.5 269.98,474.6" fill="none" stroke="#000" stroke-width="1.2"/>
<polyline points="246.32,474.6 246.32,445.5 264.07,445.5 264.07,455.5" fill="none" stroke="#000" stroke-width="1.2"/>
<polyline points="228.57,455.2 228.57,438 255.19,438 255.19,445.5" fill="none" stroke="#000" stroke-width="1.2"/>
<polyline points="196.02,446.9 196.02,433 241.88,433 241.88,438" fill="none" stroke="#000" stroke-width="1.2"/>
<polyline points="150.17,446.3 150.17,422.7 218.95,422.7 218.95,433" fill="none" stroke="#000" stroke-width="1.2"/>
<polyline points="113.19,450.5 113.19,393.6 184.56,393.6 184.56,422.7" fill="none" stroke="#000" stroke-width="1.2"/>
<text x="149.5" y="409.4" text-anchor="middle" style="font-size:11.3px;">Condition</text>
<polyline points="83.8,494.18 63.5,494.18 63.5,505.53 83.8,505.53" fill="none" stroke="#000" stroke-width="1.2"/>
<polyline points="63.5,499.85 54.2,499.85 54.2,516.88 83.8,516.88" fill="none" stroke="#000" stroke-width="1.2"/>
<polyline points="83.8,528.24 63.5,528.24 63.5,539.59 83.8,539.59" fill="none" stroke="#000" stroke-width="1.2"/>
<polyline points="54.2,508.37 46.3,508.37 46.3,533.91 63.5,533.91" fill="none" stroke="#000" stroke-width="1.2"/>
<polyline points="83.8,550.94 63,550.94 63,562.3 83.8,562.3" fill="none" stroke="#000" stroke-width="1.2"/>
<polyline points="63,556.62 55,556.62 55,573.65 83.8,573.65" fill="none" stroke="#000" stroke-width="1.2"/>
<polyline points="46.3,521.14 41,521.14 41,565.13 55,565.13" fill="none" stroke="#000" stroke-width="1.2"/>
<polyline points="83.8,585 61.5,585 61.5,596.36 83.8,596.36" fill="none" stroke="#000" stroke-width="1.2"/>
<polyline points="61.5,590.68 57.7,590.68 57.7,607.71 83.8,607.71" fill="none" stroke="#000" stroke-width="1.2"/>
<polyline points="57.7,599.19 54.7,599.19 54.7,619.06 83.8,619.06" fill="none" stroke="#000" stroke-width="1.2"/>
<polyline points="41,543.14 30.4,543.14 30.4,609.13 54.7,609.13" fill="none" stroke="#000" stroke-width="1.2"/>
<polyline points="83.8,630.42 65.2,630.42 65.2,641.77 83.8,641.77" fill="none" stroke="#000" stroke-width="1.2"/>
<polyline points="65.2,636.09 59,636.09 59,653.12 83.8,653.12" fill="none" stroke="#000" stroke-width="1.2"/>
<polyline points="30.4,576.13 0.9,576.13 0.9,644.61 59,644.61" fill="none" stroke="#000" stroke-width="1.2"/>
<text x="0" y="0" text-anchor="middle" style="font-size:11px;" transform="translate(16.9 611.5) rotate(-90) scale(1 1.03)">Batch</text>
<text x="0" y="0" text-anchor="start" style="font-size:17px;stroke-width:0.45px;" transform="translate(375.1 427.6) scale(1 0.99)">D</text>
<g shape-rendering="crispEdges">
<rect x="475.5" y="488.9" width="7.75" height="7.47" fill="#E5F8DC"/>
<rect x="482.85" y="488.9" width="7.75" height="7.47" fill="#F5FEEB"/>
<rect x="490.2" y="488.9" width="7.75" height="7.47" fill="#F5FEEB"/>
<rect x="497.55" y="488.9" width="7.75" height="7.47" fill="#D6F3CE"/>
<rect x="504.9" y="488.9" width="7.75" height="7.47" fill="#D3F2CD"/>
<rect x="512.25" y="488.9" width="7.75" height="7.47" fill="#D3F2CD"/>
<rect x="519.6" y="488.9" width="7.75" height="7.47" fill="#7CC2DA"/>
<rect x="526.95" y="488.9" width="7.75" height="7.47" fill="#74BBD8"/>
<rect x="534.3" y="488.9" width="7.75" height="7.47" fill="#74BBD8"/>
<rect x="541.65" y="488.9" width="7.75" height="7.47" fill="#AFE5D4"/>
<rect x="549" y="488.9" width="7.75" height="7.47" fill="#AFE5D4"/>
<rect x="556.35" y="488.9" width="7.75" height="7.47" fill="#AFE5D4"/>
<rect x="563.7" y="488.9" width="7.75" height="7.47" fill="#59A3CE"/>
<rect x="571.05" y="488.9" width="7.75" height="7.47" fill="#7EC5DA"/>
<rect x="578.4" y="488.9" width="7.75" height="7.47" fill="#7EC5DA"/>
<rect x="585.75" y="488.9" width="7.75" height="7.47" fill="#7CC2DA"/>
<rect x="593.1" y="488.9" width="7.75" height="7.47" fill="#7CC2DA"/>
<rect x="600.45" y="488.9" width="7.75" height="7.47" fill="#7CC2DA"/>
<rect x="607.8" y="488.9" width="7.75" height="7.47" fill="#60AAD2"/>
<rect x="615.15" y="488.9" width="7.75" height="7.47" fill="#6BB4D5"/>
<rect x="622.5" y="488.9" width="7.75" height="7.47" fill="#60AAD2"/>
<rect x="629.85" y="488.9" width="7.75" height="7.47" fill="#4C94C6"/>
<rect x="637.2" y="488.9" width="7.75" height="7.47" fill="#5099C9"/>
<rect x="644.55" y="488.9" width="7.75" height="7.47" fill="#243A8C"/>
<rect x="475.5" y="495.97" width="7.75" height="7.47" fill="#E5F8DC"/>
<rect x="482.85" y="495.97" width="7.75" height="7.47" fill="#F5FEEB"/>
<rect x="490.2" y="495.97" width="7.75" height="7.47" fill="#F5FEEB"/>
<rect x="497.55" y="495.97" width="7.75" height="7.47" fill="#D6F3CE"/>
<rect x="504.9" y="495.97" width="7.75" height="7.47" fill="#D3F2CD"/>
<rect x="512.25" y="495.97" width="7.75" height="7.47" fill="#D3F2CD"/>
<rect x="519.6" y="495.97" width="7.75" height="7.47" fill="#7CC2DA"/>
<rect x="526.95" y="495.97" width="7.75" height="7.47" fill="#74BBD8"/>
<rect x="534.3" y="495.97" width="7.75" height="7.47" fill="#74BBD8"/>
<rect x="541.65" y="495.97" width="7.75" height="7.47" fill="#AFE5D4"/>
<rect x="549" y="495.97" width="7.75" height="7.47" fill="#AFE5D4"/>
<rect x="556.35" y="495.97" width="7.75" height="7.47" fill="#AFE5D4"/>
<rect x="563.7" y="495.97" width="7.75" height="7.47" fill="#59A3CE"/>
<rect x="571.05" y="495.97" width="7.75" height="7.47" fill="#6EB6D6"/>
<rect x="578.4" y="495.97" width="7.75" height="7.47" fill="#71B8D7"/>
<rect x="585.75" y="495.97" width="7.75" height="7.47" fill="#81C8DB"/>
<rect x="593.1" y="495.97" width="7.75" height="7.47" fill="#74BBD8"/>
<rect x="600.45" y="495.97" width="7.75" height="7.47" fill="#74BBD8"/>
<rect x="607.8" y="495.97" width="7.75" height="7.47" fill="#59A3CE"/>
<rect x="615.15" y="495.97" width="7.75" height="7.47" fill="#6BB4D5"/>
<rect x="622.5" y="495.97" width="7.75" height="7.47" fill="#59A3CE"/>
<rect x="629.85" y="495.97" width="7.75" height="7.47" fill="#549ECB"/>
<rect x="637.2" y="495.97" width="7.75" height="7.47" fill="#243A8C"/>
<rect x="644.55" y="495.97" width="7.75" height="7.47" fill="#5099C9"/>
<rect x="475.5" y="503.04" width="7.75" height="7.47" fill="#E5F8DC"/>
<rect x="482.85" y="503.04" width="7.75" height="7.47" fill="#F5FEEB"/>
<rect x="490.2" y="503.04" width="7.75" height="7.47" fill="#F5FEEB"/>
<rect x="497.55" y="503.04" width="7.75" height="7.47" fill="#DAF4D0"/>
<rect x="504.9" y="503.04" width="7.75" height="7.47" fill="#D6F3CE"/>
<rect x="512.25" y="503.04" width="7.75" height="7.47" fill="#D6F3CE"/>
<rect x="519.6" y="503.04" width="7.75" height="7.47" fill="#68B1D4"/>
<rect x="526.95" y="503.04" width="7.75" height="7.47" fill="#5BA5CF"/>
<rect x="534.3" y="503.04" width="7.75" height="7.47" fill="#68B1D4"/>
<rect x="541.65" y="503.04" width="7.75" height="7.47" fill="#9BDCD8"/>
<rect x="549" y="503.04" width="7.75" height="7.47" fill="#9BDCD8"/>
<rect x="556.35" y="503.04" width="7.75" height="7.47" fill="#A5E2D7"/>
<rect x="563.7" y="503.04" width="7.75" height="7.47" fill="#59A3CE"/>
<rect x="571.05" y="503.04" width="7.75" height="7.47" fill="#A2E0D7"/>
<rect x="578.4" y="503.04" width="7.75" height="7.47" fill="#A2E0D7"/>
<rect x="585.75" y="503.04" width="7.75" height="7.47" fill="#7CC2DA"/>
<rect x="593.1" y="503.04" width="7.75" height="7.47" fill="#74BBD8"/>
<rect x="600.45" y="503.04" width="7.75" height="7.47" fill="#74BBD8"/>
<rect x="607.8" y="503.04" width="7.75" height="7.47" fill="#59A3CE"/>
<rect x="615.15" y="503.04" width="7.75" height="7.47" fill="#59A3CE"/>
<rect x="622.5" y="503.04" width="7.75" height="7.47" fill="#59A3CE"/>
<rect x="629.85" y="503.04" width="7.75" height="7.47" fill="#243A8C"/>
<rect x="637.2" y="503.04" width="7.75" height="7.47" fill="#5BA5CF"/>
<rect x="644.55" y="503.04" width="7.75" height="7.47" fill="#5099C9"/>
<rect x="475.5" y="510.11" width="7.75" height="7.47" fill="#E5F8DC"/>
<rect x="482.85" y="510.11" width="7.75" height="7.47" fill="#F5FEEB"/>
<rect x="490.2" y="510.11" width="7.75" height="7.47" fill="#F5FEEB"/>
<rect x="497.55" y="510.11" width="7.75" height="7.47" fill="#DAF4D0"/>
<rect x="504.9" y="510.11" width="7.75" height="7.47" fill="#D6F3CE"/>
<rect x="512.25" y="510.11" width="7.75" height="7.47" fill="#D6F3CE"/>
<rect x="519.6" y="510.11" width="7.75" height="7.47" fill="#98DAD9"/>
<rect x="526.95" y="510.11" width="7.75" height="7.47" fill="#9BDCD8"/>
<rect x="534.3" y="510.11" width="7.75" height="7.47" fill="#98DAD9"/>
<rect x="541.65" y="510.11" width="7.75" height="7.47" fill="#A2E0D7"/>
<rect x="549" y="510.11" width="7.75" height="7.47" fill="#A2E0D7"/>
<rect x="556.35" y="510.11" width="7.75" height="7.47" fill="#A2E0D7"/>
<rect x="563.7" y="510.11" width="7.75" height="7.47" fill="#68B1D4"/>
<rect x="571.05" y="510.11" width="7.75" height="7.47" fill="#7EC5DA"/>
<rect x="578.4" y="510.11" width="7.75" height="7.47" fill="#7EC5DA"/>
<rect x="585.75" y="510.11" width="7.75" height="7.47" fill="#71B8D7"/>
<rect x="593.1" y="510.11" width="7.75" height="7.47" fill="#59A3CE"/>
<rect x="600.45" y="510.11" width="7.75" height="7.47" fill="#59A3CE"/>
<rect x="607.8" y="510.11" width="7.75" height="7.47" fill="#59A3CE"/>
<rect x="615.15" y="510.11" width="7.75" height="7.47" fill="#5099C9"/>
<rect x="622.5" y="510.11" width="7.75" height="7.47" fill="#243A8C"/>
<rect x="629.85" y="510.11" width="7.75" height="7.47" fill="#60AAD2"/>
<rect x="637.2" y="510.11" width="7.75" height="7.47" fill="#60AAD2"/>
<rect x="644.55" y="510.11" width="7.75" height="7.47" fill="#60AAD2"/>
<rect x="475.5" y="517.18" width="7.75" height="7.47" fill="#E5F8DC"/>
<rect x="482.85" y="517.18" width="7.75" height="7.47" fill="#F5FEEB"/>
<rect x="490.2" y="517.18" width="7.75" height="7.47" fill="#F5FEEB"/>
<rect x="497.55" y="517.18" width="7.75" height="7.47" fill="#D6F3CE"/>
<rect x="504.9" y="517.18" width="7.75" height="7.47" fill="#C8F0C8"/>
<rect x="512.25" y="517.18" width="7.75" height="7.47" fill="#D3F2CD"/>
<rect x="519.6" y="517.18" width="7.75" height="7.47" fill="#83CADB"/>
<rect x="526.95" y="517.18" width="7.75" height="7.47" fill="#9BDCD8"/>
<rect x="534.3" y="517.18" width="7.75" height="7.47" fill="#8BD2DB"/>
<rect x="541.65" y="517.18" width="7.75" height="7.47" fill="#A2E0D7"/>
<rect x="549" y="517.18" width="7.75" height="7.47" fill="#A2E0D7"/>
<rect x="556.35" y="517.18" width="7.75" height="7.47" fill="#A2E0D7"/>
<rect x="563.7" y="517.18" width="7.75" height="7.47" fill="#6BB4D5"/>
<rect x="571.05" y="517.18" width="7.75" height="7.47" fill="#7EC5DA"/>
<rect x="578.4" y="517.18" width="7.75" height="7.47" fill="#7EC5DA"/>
<rect x="585.75" y="517.18" width="7.75" height="7.47" fill="#71B8D7"/>
<rect x="593.1" y="517.18" width="7.75" height="7.47" fill="#59A3CE"/>
<rect x="600.45" y="517.18" width="7.75" height="7.47" fill="#59A3CE"/>
<rect x="607.8" y="517.18" width="7.75" height="7.47" fill="#5099C9"/>
<rect x="615.15" y="517.18" width="7.75" height="7.47" fill="#243A8C"/>
<rect x="622.5" y="517.18" width="7.75" height="7.47" fill="#549ECB"/>
<rect x="629.85" y="517.18" width="7.75" height="7.47" fill="#60AAD2"/>
<rect x="637.2" y="517.18" width="7.75" height="7.47" fill="#60AAD2"/>
<rect x="644.55" y="517.18" width="7.75" height="7.47" fill="#60AAD2"/>
<rect x="475.5" y="524.25" width="7.75" height="7.47" fill="#E5F8DC"/>
<rect x="482.85" y="524.25" width="7.75" height="7.47" fill="#F5FEEB"/>
<rect x="490.2" y="524.25" width="7.75" height="7.47" fill="#F5FEEB"/>
<rect x="497.55" y="524.25" width="7.75" height="7.47" fill="#DAF4D0"/>
<rect x="504.9" y="524.25" width="7.75" height="7.47" fill="#D6F3CE"/>
<rect x="512.25" y="524.25" width="7.75" height="7.47" fill="#D6F3CE"/>
<rect x="519.6" y="524.25" width="7.75" height="7.47" fill="#9BDCD8"/>
<rect x="526.95" y="524.25" width="7.75" height="7.47" fill="#9BDCD8"/>
<rect x="534.3" y="524.25" width="7.75" height="7.47" fill="#9BDCD8"/>
<rect x="541.65" y="524.25" width="7.75" height="7.47" fill="#AFE5D4"/>
<rect x="549" y="524.25" width="7.75" height="7.47" fill="#AFE5D4"/>
<rect x="556.35" y="524.25" width="7.75" height="7.47" fill="#AFE5D4"/>
<rect x="563.7" y="524.25" width="7.75" height="7.47" fill="#59A3CE"/>
<rect x="571.05" y="524.25" width="7.75" height="7.47" fill="#7EC5DA"/>
<rect x="578.4" y="524.25" width="7.75" height="7.47" fill="#7EC5DA"/>
<rect x="585.75" y="524.25" width="7.75" height="7.47" fill="#74BBD8"/>
<rect x="593.1" y="524.25" width="7.75" height="7.47" fill="#68B1D4"/>
<rect x="600.45" y="524.25" width="7.75" height="7.47" fill="#68B1D4"/>
<rect x="607.8" y="524.25" width="7.75" height="7.47" fill="#243A8C"/>
<rect x="615.15" y="524.25" width="7.75" height="7.47" fill="#549ECB"/>
<rect x="622.5" y="524.25" width="7.75" height="7.47" fill="#59A3CE"/>
<rect x="629.85" y="524.25" width="7.75" height="7.47" fill="#59A3CE"/>
<rect x="637.2" y="524.25" width="7.75" height="7.47" fill="#59A3CE"/>
<rect x="644.55" y="524.25" width="7.75" height="7.47" fill="#59A3CE"/>
<rect x="475.5" y="531.33" width="7.75" height="7.47" fill="#E5F8DC"/>
<rect x="482.85" y="531.33" width="7.75" height="7.47" fill="#F5FEEB"/>
<rect x="490.2" y="531.33" width="7.75" height="7.47" fill="#F5FEEB"/>
<rect x="497.55" y="531.33" width="7.75" height="7.47" fill="#D1F2CC"/>
<rect x="504.9" y="531.33" width="7.75" height="7.47" fill="#B9ECCA"/>
<rect x="512.25" y="531.33" width="7.75" height="7.47" fill="#B9ECCA"/>
<rect x="519.6" y="531.33" width="7.75" height="7.47" fill="#63ACD3"/>
<rect x="526.95" y="531.33" width="7.75" height="7.47" fill="#63ACD3"/>
<rect x="534.3" y="531.33" width="7.75" height="7.47" fill="#63ACD3"/>
<rect x="541.65" y="531.33" width="7.75" height="7.47" fill="#6EB6D6"/>
<rect x="549" y="531.33" width="7.75" height="7.47" fill="#6EB6D6"/>
<rect x="556.35" y="531.33" width="7.75" height="7.47" fill="#8BD2DB"/>
<rect x="563.7" y="531.33" width="7.75" height="7.47" fill="#95D8DA"/>
<rect x="571.05" y="531.33" width="7.75" height="7.47" fill="#AFE5D4"/>
<rect x="578.4" y="531.33" width="7.75" height="7.47" fill="#AFE5D4"/>
<rect x="585.75" y="531.33" width="7.75" height="7.47" fill="#59A3CE"/>
<rect x="593.1" y="531.33" width="7.75" height="7.47" fill="#59A3CE"/>
<rect x="600.45" y="531.33" width="7.75" height="7.47" fill="#243A8C"/>
<rect x="607.8" y="531.33" width="7.75" height="7.47" fill="#6BB4D5"/>
<rect x="615.15" y="531.33" width="7.75" height="7.47" fill="#59A3CE"/>
<rect x="622.5" y="531.33" width="7.75" height="7.47" fill="#59A3CE"/>
<rect x="629.85" y="531.33" width="7.75" height="7.47" fill="#6BB4D5"/>
<rect x="637.2" y="531.33" width="7.75" height="7.47" fill="#74BBD8"/>
<rect x="644.55" y="531.33" width="7.75" height="7.47" fill="#74BBD8"/>
<rect x="475.5" y="538.4" width="7.75" height="7.47" fill="#E5F8DC"/>
<rect x="482.85" y="538.4" width="7.75" height="7.47" fill="#F5FEEB"/>
<rect x="490.2" y="538.4" width="7.75" height="7.47" fill="#F5FEEB"/>
<rect x="497.55" y="538.4" width="7.75" height="7.47" fill="#CEF1CB"/>
<rect x="504.9" y="538.4" width="7.75" height="7.47" fill="#B4E6D2"/>
<rect x="512.25" y="538.4" width="7.75" height="7.47" fill="#B9ECCA"/>
<rect x="519.6" y="538.4" width="7.75" height="7.47" fill="#59A3CE"/>
<rect x="526.95" y="538.4" width="7.75" height="7.47" fill="#59A3CE"/>
<rect x="534.3" y="538.4" width="7.75" height="7.47" fill="#59A3CE"/>
<rect x="541.65" y="538.4" width="7.75" height="7.47" fill="#59A3CE"/>
<rect x="549" y="538.4" width="7.75" height="7.47" fill="#59A3CE"/>
<rect x="556.35" y="538.4" width="7.75" height="7.47" fill="#6EB6D6"/>
<rect x="563.7" y="538.4" width="7.75" height="7.47" fill="#95D8DA"/>
<rect x="571.05" y="538.4" width="7.75" height="7.47" fill="#B9ECCA"/>
<rect x="578.4" y="538.4" width="7.75" height="7.47" fill="#B9ECCA"/>
<rect x="585.75" y="538.4" width="7.75" height="7.47" fill="#59A3CE"/>
<rect x="593.1" y="538.4" width="7.75" height="7.47" fill="#243A8C"/>
<rect x="600.45" y="538.4" width="7.75" height="7.47" fill="#6BB4D5"/>
<rect x="607.8" y="538.4" width="7.75" height="7.47" fill="#68B1D4"/>
<rect x="615.15" y="538.4" width="7.75" height="7.47" fill="#59A3CE"/>
<rect x="622.5" y="538.4" width="7.75" height="7.47" fill="#59A3CE"/>
<rect x="629.85" y="538.4" width="7.75" height="7.47" fill="#6BB4D5"/>
<rect x="637.2" y="538.4" width="7.75" height="7.47" fill="#7EC5DA"/>
<rect x="644.55" y="538.4" width="7.75" height="7.47" fill="#7EC5DA"/>
<rect x="475.5" y="545.47" width="7.75" height="7.47" fill="#E5F8DC"/>
<rect x="482.85" y="545.47" width="7.75" height="7.47" fill="#F5FEEB"/>
<rect x="490.2" y="545.47" width="7.75" height="7.47" fill="#F5FEEB"/>
<rect x="497.55" y="545.47" width="7.75" height="7.47" fill="#D3F2CD"/>
<rect x="504.9" y="545.47" width="7.75" height="7.47" fill="#B9ECCA"/>
<rect x="512.25" y="545.47" width="7.75" height="7.47" fill="#C3EEC6"/>
<rect x="519.6" y="545.47" width="7.75" height="7.47" fill="#63ACD3"/>
<rect x="526.95" y="545.47" width="7.75" height="7.47" fill="#63ACD3"/>
<rect x="534.3" y="545.47" width="7.75" height="7.47" fill="#83CADB"/>
<rect x="541.65" y="545.47" width="7.75" height="7.47" fill="#63ACD3"/>
<rect x="549" y="545.47" width="7.75" height="7.47" fill="#63ACD3"/>
<rect x="556.35" y="545.47" width="7.75" height="7.47" fill="#6EB6D6"/>
<rect x="563.7" y="545.47" width="7.75" height="7.47" fill="#9EDED8"/>
<rect x="571.05" y="545.47" width="7.75" height="7.47" fill="#C3EEC6"/>
<rect x="578.4" y="545.47" width="7.75" height="7.47" fill="#C3EEC6"/>
<rect x="585.75" y="545.47" width="7.75" height="7.47" fill="#243A8C"/>
<rect x="593.1" y="545.47" width="7.75" height="7.47" fill="#59A3CE"/>
<rect x="600.45" y="545.47" width="7.75" height="7.47" fill="#59A3CE"/>
<rect x="607.8" y="545.47" width="7.75" height="7.47" fill="#74BBD8"/>
<rect x="615.15" y="545.47" width="7.75" height="7.47" fill="#74BBD8"/>
<rect x="622.5" y="545.47" width="7.75" height="7.47" fill="#74BBD8"/>
<rect x="629.85" y="545.47" width="7.75" height="7.47" fill="#74BBD8"/>
<rect x="637.2" y="545.47" width="7.75" height="7.47" fill="#88D0DC"/>
<rect x="644.55" y="545.47" width="7.75" height="7.47" fill="#7EC5DA"/>
<rect x="475.5" y="552.54" width="7.75" height="7.47" fill="#EFFBE2"/>
<rect x="482.85" y="552.54" width="7.75" height="7.47" fill="#F7FEEE"/>
<rect x="490.2" y="552.54" width="7.75" height="7.47" fill="#F7FEEE"/>
<rect x="497.55" y="552.54" width="7.75" height="7.47" fill="#F2FDE8"/>
<rect x="504.9" y="552.54" width="7.75" height="7.47" fill="#F2FDE8"/>
<rect x="512.25" y="552.54" width="7.75" height="7.47" fill="#F2FDE8"/>
<rect x="519.6" y="552.54" width="7.75" height="7.47" fill="#E1F6D7"/>
<rect x="526.95" y="552.54" width="7.75" height="7.47" fill="#E1F6D7"/>
<rect x="534.3" y="552.54" width="7.75" height="7.47" fill="#E1F6D7"/>
<rect x="541.65" y="552.54" width="7.75" height="7.47" fill="#E5F8DC"/>
<rect x="549" y="552.54" width="7.75" height="7.47" fill="#E5F8DC"/>
<rect x="556.35" y="552.54" width="7.75" height="7.47" fill="#EBFAE0"/>
<rect x="563.7" y="552.54" width="7.75" height="7.47" fill="#7CC2DA"/>
<rect x="571.05" y="552.54" width="7.75" height="7.47" fill="#4C94C6"/>
<rect x="578.4" y="552.54" width="7.75" height="7.47" fill="#243A8C"/>
<rect x="585.75" y="552.54" width="7.75" height="7.47" fill="#CBF0CA"/>
<rect x="593.1" y="552.54" width="7.75" height="7.47" fill="#B9ECCA"/>
<rect x="600.45" y="552.54" width="7.75" height="7.47" fill="#B8E7D1"/>
<rect x="607.8" y="552.54" width="7.75" height="7.47" fill="#92D6DA"/>
<rect x="615.15" y="552.54" width="7.75" height="7.47" fill="#92D6DA"/>
<rect x="622.5" y="552.54" width="7.75" height="7.47" fill="#92D6DA"/>
<rect x="629.85" y="552.54" width="7.75" height="7.47" fill="#9EDED8"/>
<rect x="637.2" y="552.54" width="7.75" height="7.47" fill="#7CC2DA"/>
<rect x="644.55" y="552.54" width="7.75" height="7.47" fill="#8ED4DB"/>
<rect x="475.5" y="559.61" width="7.75" height="7.47" fill="#EFFBE2"/>
<rect x="482.85" y="559.61" width="7.75" height="7.47" fill="#F7FEEE"/>
<rect x="490.2" y="559.61" width="7.75" height="7.47" fill="#F7FEEE"/>
<rect x="497.55" y="559.61" width="7.75" height="7.47" fill="#F2FDE8"/>
<rect x="504.9" y="559.61" width="7.75" height="7.47" fill="#EFFBE2"/>
<rect x="512.25" y="559.61" width="7.75" height="7.47" fill="#F2FDE8"/>
<rect x="519.6" y="559.61" width="7.75" height="7.47" fill="#E1F6D7"/>
<rect x="526.95" y="559.61" width="7.75" height="7.47" fill="#E1F6D7"/>
<rect x="534.3" y="559.61" width="7.75" height="7.47" fill="#E1F6D7"/>
<rect x="541.65" y="559.61" width="7.75" height="7.47" fill="#E5F8DC"/>
<rect x="549" y="559.61" width="7.75" height="7.47" fill="#E5F8DC"/>
<rect x="556.35" y="559.61" width="7.75" height="7.47" fill="#E5F8DC"/>
<rect x="563.7" y="559.61" width="7.75" height="7.47" fill="#7CC2DA"/>
<rect x="571.05" y="559.61" width="7.75" height="7.47" fill="#243A8C"/>
<rect x="578.4" y="559.61" width="7.75" height="7.47" fill="#56A0CC"/>
<rect x="585.75" y="559.61" width="7.75" height="7.47" fill="#C3EEC6"/>
<rect x="593.1" y="559.61" width="7.75" height="7.47" fill="#AFE5D4"/>
<rect x="600.45" y="559.61" width="7.75" height="7.47" fill="#AFE5D4"/>
<rect x="607.8" y="559.61" width="7.75" height="7.47" fill="#92D6DA"/>
<rect x="615.15" y="559.61" width="7.75" height="7.47" fill="#92D6DA"/>
<rect x="622.5" y="559.61" width="7.75" height="7.47" fill="#9EDED8"/>
<rect x="629.85" y="559.61" width="7.75" height="7.47" fill="#9EDED8"/>
<rect x="637.2" y="559.61" width="7.75" height="7.47" fill="#7EC5DA"/>
<rect x="644.55" y="559.61" width="7.75" height="7.47" fill="#92D6DA"/>
<rect x="475.5" y="566.68" width="7.75" height="7.47" fill="#EFFBE2"/>
<rect x="482.85" y="566.68" width="7.75" height="7.47" fill="#F4FDEA"/>
<rect x="490.2" y="566.68" width="7.75" height="7.47" fill="#F4FDEA"/>
<rect x="497.55" y="566.68" width="7.75" height="7.47" fill="#EFFBE2"/>
<rect x="504.9" y="566.68" width="7.75" height="7.47" fill="#E8F9DD"/>
<rect x="512.25" y="566.68" width="7.75" height="7.47" fill="#EFFBE2"/>
<rect x="519.6" y="566.68" width="7.75" height="7.47" fill="#A5E2D7"/>
<rect x="526.95" y="566.68" width="7.75" height="7.47" fill="#8ED4DB"/>
<rect x="534.3" y="566.68" width="7.75" height="7.47" fill="#A5E2D7"/>
<rect x="541.65" y="566.68" width="7.75" height="7.47" fill="#CEF1CB"/>
<rect x="549" y="566.68" width="7.75" height="7.47" fill="#CEF1CB"/>
<rect x="556.35" y="566.68" width="7.75" height="7.47" fill="#CEF1CB"/>
<rect x="563.7" y="566.68" width="7.75" height="7.47" fill="#243A8C"/>
<rect x="571.05" y="566.68" width="7.75" height="7.47" fill="#74BBD8"/>
<rect x="578.4" y="566.68" width="7.75" height="7.47" fill="#74BBD8"/>
<rect x="585.75" y="566.68" width="7.75" height="7.47" fill="#9EDED8"/>
<rect x="593.1" y="566.68" width="7.75" height="7.47" fill="#9EDED8"/>
<rect x="600.45" y="566.68" width="7.75" height="7.47" fill="#9EDED8"/>
<rect x="607.8" y="566.68" width="7.75" height="7.47" fill="#60AAD2"/>
<rect x="615.15" y="566.68" width="7.75" height="7.47" fill="#6BB4D5"/>
<rect x="622.5" y="566.68" width="7.75" height="7.47" fill="#6BB4D5"/>
<rect x="629.85" y="566.68" width="7.75" height="7.47" fill="#60AAD2"/>
<rect x="637.2" y="566.68" width="7.75" height="7.47" fill="#60AAD2"/>
<rect x="644.55" y="566.68" width="7.75" height="7.47" fill="#60AAD2"/>
<rect x="475.5" y="573.75" width="7.75" height="7.47" fill="#DAF4D0"/>
<rect x="482.85" y="573.75" width="7.75" height="7.47" fill="#F5FEEB"/>
<rect x="490.2" y="573.75" width="7.75" height="7.47" fill="#F5FEEB"/>
<rect x="497.55" y="573.75" width="7.75" height="7.47" fill="#C3EEC6"/>
<rect x="504.9" y="573.75" width="7.75" height="7.47" fill="#A5E2D7"/>
<rect x="512.25" y="573.75" width="7.75" height="7.47" fill="#A5E2D7"/>
<rect x="519.6" y="573.75" width="7.75" height="7.47" fill="#7EC5DA"/>
<rect x="526.95" y="573.75" width="7.75" height="7.47" fill="#7EC5DA"/>
<rect x="534.3" y="573.75" width="7.75" height="7.47" fill="#7EC5DA"/>
<rect x="541.65" y="573.75" width="7.75" height="7.47" fill="#59A3CE"/>
<rect x="549" y="573.75" width="7.75" height="7.47" fill="#59A3CE"/>
<rect x="556.35" y="573.75" width="7.75" height="7.47" fill="#243A8C"/>
<rect x="563.7" y="573.75" width="7.75" height="7.47" fill="#D1F2CC"/>
<rect x="571.05" y="573.75" width="7.75" height="7.47" fill="#E5F8DC"/>
<rect x="578.4" y="573.75" width="7.75" height="7.47" fill="#E5F8DC"/>
<rect x="585.75" y="573.75" width="7.75" height="7.47" fill="#74BBD8"/>
<rect x="593.1" y="573.75" width="7.75" height="7.47" fill="#74BBD8"/>
<rect x="600.45" y="573.75" width="7.75" height="7.47" fill="#95D8DA"/>
<rect x="607.8" y="573.75" width="7.75" height="7.47" fill="#AFE5D4"/>
<rect x="615.15" y="573.75" width="7.75" height="7.47" fill="#A5E2D7"/>
<rect x="622.5" y="573.75" width="7.75" height="7.47" fill="#A5E2D7"/>
<rect x="629.85" y="573.75" width="7.75" height="7.47" fill="#A5E2D7"/>
<rect x="637.2" y="573.75" width="7.75" height="7.47" fill="#B9ECCA"/>
<rect x="644.55" y="573.75" width="7.75" height="7.47" fill="#B9ECCA"/>
<rect x="475.5" y="580.82" width="7.75" height="7.47" fill="#DAF4D0"/>
<rect x="482.85" y="580.82" width="7.75" height="7.47" fill="#F5FEEB"/>
<rect x="490.2" y="580.82" width="7.75" height="7.47" fill="#F5FEEB"/>
<rect x="497.55" y="580.82" width="7.75" height="7.47" fill="#B9ECCA"/>
<rect x="504.9" y="580.82" width="7.75" height="7.47" fill="#A5E2D7"/>
<rect x="512.25" y="580.82" width="7.75" height="7.47" fill="#A5E2D7"/>
<rect x="519.6" y="580.82" width="7.75" height="7.47" fill="#6BB4D5"/>
<rect x="526.95" y="580.82" width="7.75" height="7.47" fill="#6BB4D5"/>
<rect x="534.3" y="580.82" width="7.75" height="7.47" fill="#6BB4D5"/>
<rect x="541.65" y="580.82" width="7.75" height="7.47" fill="#59A3CE"/>
<rect x="549" y="580.82" width="7.75" height="7.47" fill="#243A8C"/>
<rect x="556.35" y="580.82" width="7.75" height="7.47" fill="#5099C9"/>
<rect x="563.7" y="580.82" width="7.75" height="7.47" fill="#D1F2CC"/>
<rect x="571.05" y="580.82" width="7.75" height="7.47" fill="#E5F8DC"/>
<rect x="578.4" y="580.82" width="7.75" height="7.47" fill="#E5F8DC"/>
<rect x="585.75" y="580.82" width="7.75" height="7.47" fill="#59A3CE"/>
<rect x="593.1" y="580.82" width="7.75" height="7.47" fill="#59A3CE"/>
<rect x="600.45" y="580.82" width="7.75" height="7.47" fill="#7CC2DA"/>
<rect x="607.8" y="580.82" width="7.75" height="7.47" fill="#AFE5D4"/>
<rect x="615.15" y="580.82" width="7.75" height="7.47" fill="#9EDED8"/>
<rect x="622.5" y="580.82" width="7.75" height="7.47" fill="#9EDED8"/>
<rect x="629.85" y="580.82" width="7.75" height="7.47" fill="#9EDED8"/>
<rect x="637.2" y="580.82" width="7.75" height="7.47" fill="#AFE5D4"/>
<rect x="644.55" y="580.82" width="7.75" height="7.47" fill="#B8E7D1"/>
<rect x="475.5" y="587.89" width="7.75" height="7.47" fill="#DAF4D0"/>
<rect x="482.85" y="587.89" width="7.75" height="7.47" fill="#F5FEEB"/>
<rect x="490.2" y="587.89" width="7.75" height="7.47" fill="#F5FEEB"/>
<rect x="497.55" y="587.89" width="7.75" height="7.47" fill="#B9ECCA"/>
<rect x="504.9" y="587.89" width="7.75" height="7.47" fill="#A2E0D7"/>
<rect x="512.25" y="587.89" width="7.75" height="7.47" fill="#A2E0D7"/>
<rect x="519.6" y="587.89" width="7.75" height="7.47" fill="#60AAD2"/>
<rect x="526.95" y="587.89" width="7.75" height="7.47" fill="#6BB4D5"/>
<rect x="534.3" y="587.89" width="7.75" height="7.47" fill="#6BB4D5"/>
<rect x="541.65" y="587.89" width="7.75" height="7.47" fill="#243A8C"/>
<rect x="549" y="587.89" width="7.75" height="7.47" fill="#59A3CE"/>
<rect x="556.35" y="587.89" width="7.75" height="7.47" fill="#5099C9"/>
<rect x="563.7" y="587.89" width="7.75" height="7.47" fill="#D1F2CC"/>
<rect x="571.05" y="587.89" width="7.75" height="7.47" fill="#E5F8DC"/>
<rect x="578.4" y="587.89" width="7.75" height="7.47" fill="#E5F8DC"/>
<rect x="585.75" y="587.89" width="7.75" height="7.47" fill="#59A3CE"/>
<rect x="593.1" y="587.89" width="7.75" height="7.47" fill="#59A3CE"/>
<rect x="600.45" y="587.89" width="7.75" height="7.47" fill="#7CC2DA"/>
<rect x="607.8" y="587.89" width="7.75" height="7.47" fill="#AFE5D4"/>
<rect x="615.15" y="587.89" width="7.75" height="7.47" fill="#9EDED8"/>
<rect x="622.5" y="587.89" width="7.75" height="7.47" fill="#9EDED8"/>
<rect x="629.85" y="587.89" width="7.75" height="7.47" fill="#A5E2D7"/>
<rect x="637.2" y="587.89" width="7.75" height="7.47" fill="#AFE5D4"/>
<rect x="644.55" y="587.89" width="7.75" height="7.47" fill="#B8E7D1"/>
<rect x="475.5" y="594.96" width="7.75" height="7.47" fill="#DAF4D0"/>
<rect x="482.85" y="594.96" width="7.75" height="7.47" fill="#F5FEEB"/>
<rect x="490.2" y="594.96" width="7.75" height="7.47" fill="#F5FEEB"/>
<rect x="497.55" y="594.96" width="7.75" height="7.47" fill="#B9ECCA"/>
<rect x="504.9" y="594.96" width="7.75" height="7.47" fill="#A2E0D7"/>
<rect x="512.25" y="594.96" width="7.75" height="7.47" fill="#A2E0D7"/>
<rect x="519.6" y="594.96" width="7.75" height="7.47" fill="#4C94C6"/>
<rect x="526.95" y="594.96" width="7.75" height="7.47" fill="#5099C9"/>
<rect x="534.3" y="594.96" width="7.75" height="7.47" fill="#243A8C"/>
<rect x="541.65" y="594.96" width="7.75" height="7.47" fill="#6BB4D5"/>
<rect x="549" y="594.96" width="7.75" height="7.47" fill="#6BB4D5"/>
<rect x="556.35" y="594.96" width="7.75" height="7.47" fill="#74BBD8"/>
<rect x="563.7" y="594.96" width="7.75" height="7.47" fill="#A2E0D7"/>
<rect x="571.05" y="594.96" width="7.75" height="7.47" fill="#D1F2CC"/>
<rect x="578.4" y="594.96" width="7.75" height="7.47" fill="#D1F2CC"/>
<rect x="585.75" y="594.96" width="7.75" height="7.47" fill="#74BBD8"/>
<rect x="593.1" y="594.96" width="7.75" height="7.47" fill="#59A3CE"/>
<rect x="600.45" y="594.96" width="7.75" height="7.47" fill="#7EC5DA"/>
<rect x="607.8" y="594.96" width="7.75" height="7.47" fill="#95D8DA"/>
<rect x="615.15" y="594.96" width="7.75" height="7.47" fill="#8ED4DB"/>
<rect x="622.5" y="594.96" width="7.75" height="7.47" fill="#95D8DA"/>
<rect x="629.85" y="594.96" width="7.75" height="7.47" fill="#6BB4D5"/>
<rect x="637.2" y="594.96" width="7.75" height="7.47" fill="#88D0DC"/>
<rect x="644.55" y="594.96" width="7.75" height="7.47" fill="#88D0DC"/>
<rect x="475.5" y="602.03" width="7.75" height="7.47" fill="#DAF4D0"/>
<rect x="482.85" y="602.03" width="7.75" height="7.47" fill="#F5FEEB"/>
<rect x="490.2" y="602.03" width="7.75" height="7.47" fill="#F5FEEB"/>
<rect x="497.55" y="602.03" width="7.75" height="7.47" fill="#B9ECCA"/>
<rect x="504.9" y="602.03" width="7.75" height="7.47" fill="#A2E0D7"/>
<rect x="512.25" y="602.03" width="7.75" height="7.47" fill="#A2E0D7"/>
<rect x="519.6" y="602.03" width="7.75" height="7.47" fill="#4C94C6"/>
<rect x="526.95" y="602.03" width="7.75" height="7.47" fill="#243A8C"/>
<rect x="534.3" y="602.03" width="7.75" height="7.47" fill="#5099C9"/>
<rect x="541.65" y="602.03" width="7.75" height="7.47" fill="#6BB4D5"/>
<rect x="549" y="602.03" width="7.75" height="7.47" fill="#6BB4D5"/>
<rect x="556.35" y="602.03" width="7.75" height="7.47" fill="#74BBD8"/>
<rect x="563.7" y="602.03" width="7.75" height="7.47" fill="#A2E0D7"/>
<rect x="571.05" y="602.03" width="7.75" height="7.47" fill="#D1F2CC"/>
<rect x="578.4" y="602.03" width="7.75" height="7.47" fill="#D1F2CC"/>
<rect x="585.75" y="602.03" width="7.75" height="7.47" fill="#6BB4D5"/>
<rect x="593.1" y="602.03" width="7.75" height="7.47" fill="#59A3CE"/>
<rect x="600.45" y="602.03" width="7.75" height="7.47" fill="#7EC5DA"/>
<rect x="607.8" y="602.03" width="7.75" height="7.47" fill="#95D8DA"/>
<rect x="615.15" y="602.03" width="7.75" height="7.47" fill="#95D8DA"/>
<rect x="622.5" y="602.03" width="7.75" height="7.47" fill="#95D8DA"/>
<rect x="629.85" y="602.03" width="7.75" height="7.47" fill="#6BB4D5"/>
<rect x="637.2" y="602.03" width="7.75" height="7.47" fill="#95D8DA"/>
<rect x="644.55" y="602.03" width="7.75" height="7.47" fill="#88D0DC"/>
<rect x="475.5" y="609.1" width="7.75" height="7.47" fill="#D1F2CC"/>
<rect x="482.85" y="609.1" width="7.75" height="7.47" fill="#EFFBE2"/>
<rect x="490.2" y="609.1" width="7.75" height="7.47" fill="#EFFBE2"/>
<rect x="497.55" y="609.1" width="7.75" height="7.47" fill="#A5E2D7"/>
<rect x="504.9" y="609.1" width="7.75" height="7.47" fill="#92D6DA"/>
<rect x="512.25" y="609.1" width="7.75" height="7.47" fill="#92D6DA"/>
<rect x="519.6" y="609.1" width="7.75" height="7.47" fill="#243A8C"/>
<rect x="526.95" y="609.1" width="7.75" height="7.47" fill="#5099C9"/>
<rect x="534.3" y="609.1" width="7.75" height="7.47" fill="#5099C9"/>
<rect x="541.65" y="609.1" width="7.75" height="7.47" fill="#60AAD2"/>
<rect x="549" y="609.1" width="7.75" height="7.47" fill="#60AAD2"/>
<rect x="556.35" y="609.1" width="7.75" height="7.47" fill="#68B1D4"/>
<rect x="563.7" y="609.1" width="7.75" height="7.47" fill="#B9ECCA"/>
<rect x="571.05" y="609.1" width="7.75" height="7.47" fill="#D1F2CC"/>
<rect x="578.4" y="609.1" width="7.75" height="7.47" fill="#D1F2CC"/>
<rect x="585.75" y="609.1" width="7.75" height="7.47" fill="#74BBD8"/>
<rect x="593.1" y="609.1" width="7.75" height="7.47" fill="#60AAD2"/>
<rect x="600.45" y="609.1" width="7.75" height="7.47" fill="#7EC5DA"/>
<rect x="607.8" y="609.1" width="7.75" height="7.47" fill="#9EDED8"/>
<rect x="615.15" y="609.1" width="7.75" height="7.47" fill="#8ED4DB"/>
<rect x="622.5" y="609.1" width="7.75" height="7.47" fill="#95D8DA"/>
<rect x="629.85" y="609.1" width="7.75" height="7.47" fill="#7EC5DA"/>
<rect x="637.2" y="609.1" width="7.75" height="7.47" fill="#95D8DA"/>
<rect x="644.55" y="609.1" width="7.75" height="7.47" fill="#95D8DA"/>
<rect x="475.5" y="616.17" width="7.75" height="7.47" fill="#A5E2D7"/>
<rect x="482.85" y="616.17" width="7.75" height="7.47" fill="#E5F8DC"/>
<rect x="490.2" y="616.17" width="7.75" height="7.47" fill="#EFFBE2"/>
<rect x="497.55" y="616.17" width="7.75" height="7.47" fill="#59A3CE"/>
<rect x="504.9" y="616.17" width="7.75" height="7.47" fill="#59A3CE"/>
<rect x="512.25" y="616.17" width="7.75" height="7.47" fill="#243A8C"/>
<rect x="519.6" y="616.17" width="7.75" height="7.47" fill="#A2E0D7"/>
<rect x="526.95" y="616.17" width="7.75" height="7.47" fill="#A5E2D7"/>
<rect x="534.3" y="616.17" width="7.75" height="7.47" fill="#A5E2D7"/>
<rect x="541.65" y="616.17" width="7.75" height="7.47" fill="#A2E0D7"/>
<rect x="549" y="616.17" width="7.75" height="7.47" fill="#A5E2D7"/>
<rect x="556.35" y="616.17" width="7.75" height="7.47" fill="#A5E2D7"/>
<rect x="563.7" y="616.17" width="7.75" height="7.47" fill="#EBFAE0"/>
<rect x="571.05" y="616.17" width="7.75" height="7.47" fill="#F1FCE7"/>
<rect x="578.4" y="616.17" width="7.75" height="7.47" fill="#F1FCE7"/>
<rect x="585.75" y="616.17" width="7.75" height="7.47" fill="#CBF0CA"/>
<rect x="593.1" y="616.17" width="7.75" height="7.47" fill="#C3EEC6"/>
<rect x="600.45" y="616.17" width="7.75" height="7.47" fill="#CBF0CA"/>
<rect x="607.8" y="616.17" width="7.75" height="7.47" fill="#DAF4D0"/>
<rect x="615.15" y="616.17" width="7.75" height="7.47" fill="#DAF4D0"/>
<rect x="622.5" y="616.17" width="7.75" height="7.47" fill="#DAF4D0"/>
<rect x="629.85" y="616.17" width="7.75" height="7.47" fill="#D6F3CE"/>
<rect x="637.2" y="616.17" width="7.75" height="7.47" fill="#DAF4D0"/>
<rect x="644.55" y="616.17" width="7.75" height="7.47" fill="#DAF4D0"/>
<rect x="475.5" y="623.25" width="7.75" height="7.47" fill="#95D8DA"/>
<rect x="482.85" y="623.25" width="7.75" height="7.47" fill="#E1F6D7"/>
<rect x="490.2" y="623.25" width="7.75" height="7.47" fill="#EFFBE2"/>
<rect x="497.55" y="623.25" width="7.75" height="7.47" fill="#59A3CE"/>
<rect x="504.9" y="623.25" width="7.75" height="7.47" fill="#243A8C"/>
<rect x="512.25" y="623.25" width="7.75" height="7.47" fill="#60AAD2"/>
<rect x="519.6" y="623.25" width="7.75" height="7.47" fill="#95D8DA"/>
<rect x="526.95" y="623.25" width="7.75" height="7.47" fill="#A2E0D7"/>
<rect x="534.3" y="623.25" width="7.75" height="7.47" fill="#A2E0D7"/>
<rect x="541.65" y="623.25" width="7.75" height="7.47" fill="#A2E0D7"/>
<rect x="549" y="623.25" width="7.75" height="7.47" fill="#A5E2D7"/>
<rect x="556.35" y="623.25" width="7.75" height="7.47" fill="#A5E2D7"/>
<rect x="563.7" y="623.25" width="7.75" height="7.47" fill="#EFFBE2"/>
<rect x="571.05" y="623.25" width="7.75" height="7.47" fill="#F1FCE7"/>
<rect x="578.4" y="623.25" width="7.75" height="7.47" fill="#F1FCE7"/>
<rect x="585.75" y="623.25" width="7.75" height="7.47" fill="#CBF0CA"/>
<rect x="593.1" y="623.25" width="7.75" height="7.47" fill="#B9ECCA"/>
<rect x="600.45" y="623.25" width="7.75" height="7.47" fill="#CBF0CA"/>
<rect x="607.8" y="623.25" width="7.75" height="7.47" fill="#DAF4D0"/>
<rect x="615.15" y="623.25" width="7.75" height="7.47" fill="#CBF0CA"/>
<rect x="622.5" y="623.25" width="7.75" height="7.47" fill="#DAF4D0"/>
<rect x="629.85" y="623.25" width="7.75" height="7.47" fill="#D6F3CE"/>
<rect x="637.2" y="623.25" width="7.75" height="7.47" fill="#DAF4D0"/>
<rect x="644.55" y="623.25" width="7.75" height="7.47" fill="#DAF4D0"/>
<rect x="475.5" y="630.32" width="7.75" height="7.47" fill="#C3EEC6"/>
<rect x="482.85" y="630.32" width="7.75" height="7.47" fill="#EFFBE2"/>
<rect x="490.2" y="630.32" width="7.75" height="7.47" fill="#F5FEEB"/>
<rect x="497.55" y="630.32" width="7.75" height="7.47" fill="#243A8C"/>
<rect x="504.9" y="630.32" width="7.75" height="7.47" fill="#59A3CE"/>
<rect x="512.25" y="630.32" width="7.75" height="7.47" fill="#59A3CE"/>
<rect x="519.6" y="630.32" width="7.75" height="7.47" fill="#A5E2D7"/>
<rect x="526.95" y="630.32" width="7.75" height="7.47" fill="#AFE5D4"/>
<rect x="534.3" y="630.32" width="7.75" height="7.47" fill="#AFE5D4"/>
<rect x="541.65" y="630.32" width="7.75" height="7.47" fill="#AFE5D4"/>
<rect x="549" y="630.32" width="7.75" height="7.47" fill="#B9ECCA"/>
<rect x="556.35" y="630.32" width="7.75" height="7.47" fill="#B9ECCA"/>
<rect x="563.7" y="630.32" width="7.75" height="7.47" fill="#EBFAE0"/>
<rect x="571.05" y="630.32" width="7.75" height="7.47" fill="#F1FCE7"/>
<rect x="578.4" y="630.32" width="7.75" height="7.47" fill="#F1FCE7"/>
<rect x="585.75" y="630.32" width="7.75" height="7.47" fill="#D1F2CC"/>
<rect x="593.1" y="630.32" width="7.75" height="7.47" fill="#D1F2CC"/>
<rect x="600.45" y="630.32" width="7.75" height="7.47" fill="#D6F3CE"/>
<rect x="607.8" y="630.32" width="7.75" height="7.47" fill="#E5F8DC"/>
<rect x="615.15" y="630.32" width="7.75" height="7.47" fill="#E5F8DC"/>
<rect x="622.5" y="630.32" width="7.75" height="7.47" fill="#E5F8DC"/>
<rect x="629.85" y="630.32" width="7.75" height="7.47" fill="#E1F6D7"/>
<rect x="637.2" y="630.32" width="7.75" height="7.47" fill="#E1F6D7"/>
<rect x="644.55" y="630.32" width="7.75" height="7.47" fill="#E1F6D7"/>
<rect x="475.5" y="637.39" width="7.75" height="7.47" fill="#A2E0D7"/>
<rect x="482.85" y="637.39" width="7.75" height="7.47" fill="#5BA5CF"/>
<rect x="490.2" y="637.39" width="7.75" height="7.47" fill="#243A8C"/>
<rect x="497.55" y="637.39" width="7.75" height="7.47" fill="#F5FEEB"/>
<rect x="504.9" y="637.39" width="7.75" height="7.47" fill="#F5FEEB"/>
<rect x="512.25" y="637.39" width="7.75" height="7.47" fill="#F5FEEB"/>
<rect x="519.6" y="637.39" width="7.75" height="7.47" fill="#F1FCE7"/>
<rect x="526.95" y="637.39" width="7.75" height="7.47" fill="#F1FCE7"/>
<rect x="534.3" y="637.39" width="7.75" height="7.47" fill="#F1FCE7"/>
<rect x="541.65" y="637.39" width="7.75" height="7.47" fill="#F3FDE9"/>
<rect x="549" y="637.39" width="7.75" height="7.47" fill="#F3FDE9"/>
<rect x="556.35" y="637.39" width="7.75" height="7.47" fill="#F3FDE9"/>
<rect x="563.7" y="637.39" width="7.75" height="7.47" fill="#F7FEEE"/>
<rect x="571.05" y="637.39" width="7.75" height="7.47" fill="#F8FFEF"/>
<rect x="578.4" y="637.39" width="7.75" height="7.47" fill="#F8FFEF"/>
<rect x="585.75" y="637.39" width="7.75" height="7.47" fill="#F3FDE9"/>
<rect x="593.1" y="637.39" width="7.75" height="7.47" fill="#F3FDE9"/>
<rect x="600.45" y="637.39" width="7.75" height="7.47" fill="#F3FDE9"/>
<rect x="607.8" y="637.39" width="7.75" height="7.47" fill="#F3FDE9"/>
<rect x="615.15" y="637.39" width="7.75" height="7.47" fill="#F1FCE7"/>
<rect x="622.5" y="637.39" width="7.75" height="7.47" fill="#F3FDE9"/>
<rect x="629.85" y="637.39" width="7.75" height="7.47" fill="#F1FCE7"/>
<rect x="637.2" y="637.39" width="7.75" height="7.47" fill="#F3FDE9"/>
<rect x="644.55" y="637.39" width="7.75" height="7.47" fill="#F3FDE9"/>
<rect x="475.5" y="644.46" width="7.75" height="7.47" fill="#95D8DA"/>
<rect x="482.85" y="644.46" width="7.75" height="7.47" fill="#243A8C"/>
<rect x="490.2" y="644.46" width="7.75" height="7.47" fill="#60AAD2"/>
<rect x="497.55" y="644.46" width="7.75" height="7.47" fill="#F3FDE9"/>
<rect x="504.9" y="644.46" width="7.75" height="7.47" fill="#EFFBE2"/>
<rect x="512.25" y="644.46" width="7.75" height="7.47" fill="#EFFBE2"/>
<rect x="519.6" y="644.46" width="7.75" height="7.47" fill="#EBFAE0"/>
<rect x="526.95" y="644.46" width="7.75" height="7.47" fill="#EFFBE2"/>
<rect x="534.3" y="644.46" width="7.75" height="7.47" fill="#EFFBE2"/>
<rect x="541.65" y="644.46" width="7.75" height="7.47" fill="#F1FCE7"/>
<rect x="549" y="644.46" width="7.75" height="7.47" fill="#F1FCE7"/>
<rect x="556.35" y="644.46" width="7.75" height="7.47" fill="#F1FCE7"/>
<rect x="563.7" y="644.46" width="7.75" height="7.47" fill="#F1FCE7"/>
<rect x="571.05" y="644.46" width="7.75" height="7.47" fill="#F3FDE9"/>
<rect x="578.4" y="644.46" width="7.75" height="7.47" fill="#F3FDE9"/>
<rect x="585.75" y="644.46" width="7.75" height="7.47" fill="#EFFBE2"/>
<rect x="593.1" y="644.46" width="7.75" height="7.47" fill="#EFFBE2"/>
<rect x="600.45" y="644.46" width="7.75" height="7.47" fill="#EFFBE2"/>
<rect x="607.8" y="644.46" width="7.75" height="7.47" fill="#F1FCE7"/>
<rect x="615.15" y="644.46" width="7.75" height="7.47" fill="#EFFBE2"/>
<rect x="622.5" y="644.46" width="7.75" height="7.47" fill="#EFFBE2"/>
<rect x="629.85" y="644.46" width="7.75" height="7.47" fill="#EFFBE2"/>
<rect x="637.2" y="644.46" width="7.75" height="7.47" fill="#EFFBE2"/>
<rect x="644.55" y="644.46" width="7.75" height="7.47" fill="#EFFBE2"/>
<rect x="475.5" y="651.53" width="7.75" height="7.47" fill="#243A8C"/>
<rect x="482.85" y="651.53" width="7.75" height="7.47" fill="#95D8DA"/>
<rect x="490.2" y="651.53" width="7.75" height="7.47" fill="#A2E0D7"/>
<rect x="497.55" y="651.53" width="7.75" height="7.47" fill="#D1F2CC"/>
<rect x="504.9" y="651.53" width="7.75" height="7.47" fill="#A2E0D7"/>
<rect x="512.25" y="651.53" width="7.75" height="7.47" fill="#AFE5D4"/>
<rect x="519.6" y="651.53" width="7.75" height="7.47" fill="#D1F2CC"/>
<rect x="526.95" y="651.53" width="7.75" height="7.47" fill="#E1F6D7"/>
<rect x="534.3" y="651.53" width="7.75" height="7.47" fill="#E1F6D7"/>
<rect x="541.65" y="651.53" width="7.75" height="7.47" fill="#E1F6D7"/>
<rect x="549" y="651.53" width="7.75" height="7.47" fill="#E5F8DC"/>
<rect x="556.35" y="651.53" width="7.75" height="7.47" fill="#E1F6D7"/>
<rect x="563.7" y="651.53" width="7.75" height="7.47" fill="#E5F8DC"/>
<rect x="571.05" y="651.53" width="7.75" height="7.47" fill="#EFFBE2"/>
<rect x="578.4" y="651.53" width="7.75" height="7.47" fill="#EFFBE2"/>
<rect x="585.75" y="651.53" width="7.75" height="7.47" fill="#E1F6D7"/>
<rect x="593.1" y="651.53" width="7.75" height="7.47" fill="#E1F6D7"/>
<rect x="600.45" y="651.53" width="7.75" height="7.47" fill="#E1F6D7"/>
<rect x="607.8" y="651.53" width="7.75" height="7.47" fill="#E5F8DC"/>
<rect x="615.15" y="651.53" width="7.75" height="7.47" fill="#E5F8DC"/>
<rect x="622.5" y="651.53" width="7.75" height="7.47" fill="#E5F8DC"/>
<rect x="629.85" y="651.53" width="7.75" height="7.47" fill="#E5F8DC"/>
<rect x="637.2" y="651.53" width="7.75" height="7.47" fill="#E5F8DC"/>
<rect x="644.55" y="651.53" width="7.75" height="7.47" fill="#E5F8DC"/>
</g>
<rect x="475.5" y="477.6" width="22.05" height="8.3" fill="#7B9BD8"/>
<rect x="497.55" y="477.6" width="22.05" height="8.3" fill="#E6E6E6"/>
<rect x="519.6" y="477.6" width="22.05" height="8.3" fill="#BDBDBD"/>
<rect x="541.65" y="477.6" width="22.05" height="8.3" fill="#FFD000"/>
<rect x="563.7" y="477.6" width="22.05" height="8.3" fill="#000000"/>
<rect x="585.75" y="477.6" width="22.05" height="8.3" fill="#3FB31C"/>
<rect x="607.8" y="477.6" width="22.05" height="8.3" fill="#FB8550"/>
<rect x="629.85" y="477.6" width="22.05" height="8.3" fill="#8C8C8C"/>
<rect x="463.1" y="488.9" width="9.2" height="7.07" fill="#E2291E"/>
<rect x="463.1" y="495.97" width="9.2" height="7.07" fill="#78C81E"/>
<rect x="463.1" y="503.04" width="9.2" height="7.07" fill="#A64AC6"/>
<rect x="463.1" y="510.11" width="9.2" height="7.07" fill="#E2291E"/>
<rect x="463.1" y="517.18" width="9.2" height="7.07" fill="#78C81E"/>
<rect x="463.1" y="524.25" width="9.2" height="14.14" fill="#A64AC6"/>
<rect x="463.1" y="538.4" width="9.2" height="7.07" fill="#78C81E"/>
<rect x="463.1" y="545.47" width="9.2" height="14.14" fill="#E2291E"/>
<rect x="463.1" y="559.61" width="9.2" height="7.07" fill="#78C81E"/>
<rect x="463.1" y="566.68" width="9.2" height="7.07" fill="#A64AC6"/>
<rect x="463.1" y="573.75" width="9.2" height="7.07" fill="#E2291E"/>
<rect x="463.1" y="580.82" width="9.2" height="7.07" fill="#78C81E"/>
<rect x="463.1" y="587.89" width="9.2" height="7.07" fill="#A64AC6"/>
<rect x="463.1" y="594.96" width="9.2" height="7.07" fill="#E2291E"/>
<rect x="463.1" y="602.03" width="9.2" height="7.07" fill="#78C81E"/>
<rect x="463.1" y="609.1" width="9.2" height="7.07" fill="#A64AC6"/>
<rect x="463.1" y="616.17" width="9.2" height="7.07" fill="#78C81E"/>
<rect x="463.1" y="623.25" width="9.2" height="7.07" fill="#A64AC6"/>
<rect x="463.1" y="630.32" width="9.2" height="14.14" fill="#E2291E"/>
<rect x="463.1" y="644.46" width="9.2" height="7.07" fill="#78C81E"/>
<rect x="463.1" y="651.53" width="9.2" height="7.07" fill="#A64AC6"/>
<text x="656" y="493.84" text-anchor="start" style="font-size:6.8px;stroke-width:0.35px;">uninf48.A</text>
<text x="656" y="500.91" text-anchor="start" style="font-size:6.8px;stroke-width:0.35px;">uninf48.B</text>
<text x="656" y="507.98" text-anchor="start" style="font-size:6.8px;stroke-width:0.35px;">uninf48.C</text>
<text x="656" y="515.05" text-anchor="start" style="font-size:6.8px;stroke-width:0.35px;">inf72.A</text>
<text x="656" y="522.12" text-anchor="start" style="font-size:6.8px;stroke-width:0.35px;">inf72.B</text>
<text x="656" y="529.19" text-anchor="start" style="font-size:6.8px;stroke-width:0.35px;">inf72.C</text>
<text x="656" y="536.26" text-anchor="start" style="font-size:6.8px;stroke-width:0.35px;">inf48.C</text>
<text x="656" y="543.33" text-anchor="start" style="font-size:6.8px;stroke-width:0.35px;">inf48.B</text>
<text x="656" y="550.4" text-anchor="start" style="font-size:6.8px;stroke-width:0.35px;">inf48.A</text>
<text x="656" y="557.47" text-anchor="start" style="font-size:6.8px;stroke-width:0.35px;">uninf72.A</text>
<text x="656" y="564.54" text-anchor="start" style="font-size:6.8px;stroke-width:0.35px;">uninf72.B</text>
<text x="656" y="571.61" text-anchor="start" style="font-size:6.8px;stroke-width:0.35px;">uninf72.C</text>
<text x="656" y="578.69" text-anchor="start" style="font-size:6.8px;stroke-width:0.35px;">inf24.A</text>
<text x="656" y="585.76" text-anchor="start" style="font-size:6.8px;stroke-width:0.35px;">inf24.B</text>
<text x="656" y="592.83" text-anchor="start" style="font-size:6.8px;stroke-width:0.35px;">inf24.C</text>
<text x="656" y="599.9" text-anchor="start" style="font-size:6.8px;stroke-width:0.35px;">uninf24.A</text>
<text x="656" y="606.97" text-anchor="start" style="font-size:6.8px;stroke-width:0.35px;">uninf24.B</text>
<text x="656" y="614.04" text-anchor="start" style="font-size:6.8px;stroke-width:0.35px;">uninf24.C</text>
<text x="656" y="621.11" text-anchor="start" style="font-size:6.8px;stroke-width:0.35px;">uninf4.B</text>
<text x="656" y="628.18" text-anchor="start" style="font-size:6.8px;stroke-width:0.35px;">uninf4.C</text>
<text x="656" y="635.25" text-anchor="start" style="font-size:6.8px;stroke-width:0.35px;">uninf4.A</text>
<text x="656" y="642.32" text-anchor="start" style="font-size:6.8px;stroke-width:0.35px;">inf4.A</text>
<text x="656" y="649.39" text-anchor="start" style="font-size:6.8px;stroke-width:0.35px;">inf4.B</text>
<text x="656" y="656.46" text-anchor="start" style="font-size:6.8px;stroke-width:0.35px;">inf4.C</text>
<text x="481.48" y="662" text-anchor="end" style="font-size:6.8px;stroke-width:0.35px;" transform="rotate(-90 481.48 662)">inf4.C</text>
<text x="488.82" y="662" text-anchor="end" style="font-size:6.8px;stroke-width:0.35px;" transform="rotate(-90 488.82 662)">inf4.B</text>
<text x="496.18" y="662" text-anchor="end" style="font-size:6.8px;stroke-width:0.35px;" transform="rotate(-90 496.18 662)">inf4.A</text>
<text x="503.53" y="662" text-anchor="end" style="font-size:6.8px;stroke-width:0.35px;" transform="rotate(-90 503.53 662)">uninf4.A</text>
<text x="510.88" y="662" text-anchor="end" style="font-size:6.8px;stroke-width:0.35px;" transform="rotate(-90 510.88 662)">uninf4.C</text>
<text x="518.22" y="662" text-anchor="end" style="font-size:6.8px;stroke-width:0.35px;" transform="rotate(-90 518.22 662)">uninf4.B</text>
<text x="525.57" y="662" text-anchor="end" style="font-size:6.8px;stroke-width:0.35px;" transform="rotate(-90 525.57 662)">uninf24.C</text>
<text x="532.92" y="662" text-anchor="end" style="font-size:6.8px;stroke-width:0.35px;" transform="rotate(-90 532.92 662)">uninf24.B</text>
<text x="540.27" y="662" text-anchor="end" style="font-size:6.8px;stroke-width:0.35px;" transform="rotate(-90 540.27 662)">uninf24.A</text>
<text x="547.62" y="662" text-anchor="end" style="font-size:6.8px;stroke-width:0.35px;" transform="rotate(-90 547.62 662)">inf24.C</text>
<text x="554.97" y="662" text-anchor="end" style="font-size:6.8px;stroke-width:0.35px;" transform="rotate(-90 554.97 662)">inf24.B</text>
<text x="562.32" y="662" text-anchor="end" style="font-size:6.8px;stroke-width:0.35px;" transform="rotate(-90 562.32 662)">inf24.A</text>
<text x="569.67" y="662" text-anchor="end" style="font-size:6.8px;stroke-width:0.35px;" transform="rotate(-90 569.67 662)">uninf72.C</text>
<text x="577.02" y="662" text-anchor="end" style="font-size:6.8px;stroke-width:0.35px;" transform="rotate(-90 577.02 662)">uninf72.B</text>
<text x="584.38" y="662" text-anchor="end" style="font-size:6.8px;stroke-width:0.35px;" transform="rotate(-90 584.38 662)">uninf72.A</text>
<text x="591.72" y="662" text-anchor="end" style="font-size:6.8px;stroke-width:0.35px;" transform="rotate(-90 591.72 662)">inf48.A</text>
<text x="599.07" y="662" text-anchor="end" style="font-size:6.8px;stroke-width:0.35px;" transform="rotate(-90 599.07 662)">inf48.B</text>
<text x="606.42" y="662" text-anchor="end" style="font-size:6.8px;stroke-width:0.35px;" transform="rotate(-90 606.42 662)">inf48.C</text>
<text x="613.77" y="662" text-anchor="end" style="font-size:6.8px;stroke-width:0.35px;" transform="rotate(-90 613.77 662)">inf72.C</text>
<text x="621.12" y="662" text-anchor="end" style="font-size:6.8px;stroke-width:0.35px;" transform="rotate(-90 621.12 662)">inf72.B</text>
<text x="628.47" y="662" text-anchor="end" style="font-size:6.8px;stroke-width:0.35px;" transform="rotate(-90 628.47 662)">inf72.A</text>
<text x="635.82" y="662" text-anchor="end" style="font-size:6.8px;stroke-width:0.35px;" transform="rotate(-90 635.82 662)">uninf48.C</text>
<text x="643.17" y="662" text-anchor="end" style="font-size:6.8px;stroke-width:0.35px;" transform="rotate(-90 643.17 662)">uninf48.B</text>
<text x="650.52" y="662" text-anchor="end" style="font-size:6.8px;stroke-width:0.35px;" transform="rotate(-90 650.52 662)">uninf48.A</text>
<polyline points="486.52,474.6 486.52,457.4 493.88,457.4 493.88,474.6" fill="none" stroke="#000" stroke-width="1.2"/>
<polyline points="479.18,474.6 479.18,441.3 490.2,441.3 490.2,457.4" fill="none" stroke="#000" stroke-width="1.2"/>
<polyline points="508.57,474.6 508.57,460.2 515.92,460.2 515.92,474.6" fill="none" stroke="#000" stroke-width="1.2"/>
<polyline points="501.23,474.6 501.23,458 512.25,458 512.25,460.2" fill="none" stroke="#000" stroke-width="1.2"/>
<polyline points="530.62,474.6 530.62,464.3 537.98,464.3 537.98,474.6" fill="none" stroke="#000" stroke-width="1.2"/>
<polyline points="523.27,474.6 523.27,462.1 534.3,462.1 534.3,464.3" fill="none" stroke="#000" stroke-width="1.2"/>
<polyline points="552.67,474.6 552.67,463.5 560.02,463.5 560.02,474.6" fill="none" stroke="#000" stroke-width="1.2"/>
<polyline points="545.33,474.6 545.33,460.7 556.35,460.7 556.35,463.5" fill="none" stroke="#000" stroke-width="1.2"/>
<polyline points="528.79,462.1 528.79,450 550.84,450 550.84,460.7" fill="none" stroke="#000" stroke-width="1.2"/>
<polyline points="506.74,458 506.74,432.4 539.81,432.4 539.81,450" fill="none" stroke="#000" stroke-width="1.2"/>
<polyline points="574.73,474.6 574.73,464.3 582.08,464.3 582.08,474.6" fill="none" stroke="#000" stroke-width="1.2"/>
<polyline points="567.38,474.6 567.38,452.4 578.4,452.4 578.4,464.3" fill="none" stroke="#000" stroke-width="1.2"/>
<polyline points="596.77,474.6 596.77,462.7 604.12,462.7 604.12,474.6" fill="none" stroke="#000" stroke-width="1.2"/>
<polyline points="589.42,474.6 589.42,460.2 600.45,460.2 600.45,462.7" fill="none" stroke="#000" stroke-width="1.2"/>
<polyline points="618.83,474.6 618.83,463.5 626.17,463.5 626.17,474.6" fill="none" stroke="#000" stroke-width="1.2"/>
<polyline points="611.47,474.6 611.47,462.7 622.5,462.7 622.5,463.5" fill="none" stroke="#000" stroke-width="1.2"/>
<polyline points="640.88,474.6 640.88,464.3 648.22,464.3 648.22,474.6" fill="none" stroke="#000" stroke-width="1.2"/>
<polyline points="633.52,474.6 633.52,460.7 644.55,460.7 644.55,464.3" fill="none" stroke="#000" stroke-width="1.2"/>
<polyline points="616.99,462.7 616.99,456 639.04,456 639.04,460.7" fill="none" stroke="#000" stroke-width="1.2"/>
<polyline points="594.94,460.2 594.94,444.6 628.01,444.6 628.01,456" fill="none" stroke="#000" stroke-width="1.2"/>
<polyline points="572.89,452.4 572.89,428.3 611.47,428.3 611.47,444.6" fill="none" stroke="#000" stroke-width="1.2"/>
<polyline points="523.27,432.4 523.27,414.4 592.18,414.4 592.18,428.3" fill="none" stroke="#000" stroke-width="1.2"/>
<polyline points="484.69,441.3 484.69,393.9 557.73,393.9 557.73,414.4" fill="none" stroke="#000" stroke-width="1.2"/>
<text x="521" y="406.6" text-anchor="middle" style="font-size:11.3px;">Condition</text>
<polyline points="460.4,492.44 449,492.44 449,499.51 460.4,499.51" fill="none" stroke="#000" stroke-width="1.2"/>
<polyline points="449,495.97 445.5,495.97 445.5,506.58 460.4,506.58" fill="none" stroke="#000" stroke-width="1.2"/>
<polyline points="460.4,513.65 448.6,513.65 448.6,520.72 460.4,520.72" fill="none" stroke="#000" stroke-width="1.2"/>
<polyline points="448.6,517.18 447.3,517.18 447.3,527.79 460.4,527.79" fill="none" stroke="#000" stroke-width="1.2"/>
<polyline points="445.5,501.27 440.4,501.27 440.4,522.49 447.3,522.49" fill="none" stroke="#000" stroke-width="1.2"/>
<polyline points="460.4,534.86 447.7,534.86 447.7,541.93 460.4,541.93" fill="none" stroke="#000" stroke-width="1.2"/>
<polyline points="447.7,538.4 445.1,538.4 445.1,549 460.4,549" fill="none" stroke="#000" stroke-width="1.2"/>
<polyline points="440.4,511.88 428.8,511.88 428.8,543.7 445.1,543.7" fill="none" stroke="#000" stroke-width="1.2"/>
<polyline points="460.4,556.07 450.5,556.07 450.5,563.14 460.4,563.14" fill="none" stroke="#000" stroke-width="1.2"/>
<polyline points="450.5,559.61 436.8,559.61 436.8,570.21 460.4,570.21" fill="none" stroke="#000" stroke-width="1.2"/>
<polyline points="428.8,527.79 412,527.79 412,564.91 436.8,564.91" fill="none" stroke="#000" stroke-width="1.2"/>
<polyline points="460.4,577.29 448.4,577.29 448.4,584.36 460.4,584.36" fill="none" stroke="#000" stroke-width="1.2"/>
<polyline points="448.4,580.82 445.4,580.82 445.4,591.43 460.4,591.43" fill="none" stroke="#000" stroke-width="1.2"/>
<polyline points="460.4,598.5 449.9,598.5 449.9,605.57 460.4,605.57" fill="none" stroke="#000" stroke-width="1.2"/>
<polyline points="449.9,602.03 447.3,602.03 447.3,612.64 460.4,612.64" fill="none" stroke="#000" stroke-width="1.2"/>
<polyline points="445.4,586.12 434.7,586.12 434.7,607.34 447.3,607.34" fill="none" stroke="#000" stroke-width="1.2"/>
<polyline points="460.4,619.71 445.8,619.71 445.8,626.78 460.4,626.78" fill="none" stroke="#000" stroke-width="1.2"/>
<polyline points="445.8,623.25 443.2,623.25 443.2,633.85 460.4,633.85" fill="none" stroke="#000" stroke-width="1.2"/>
<polyline points="434.7,596.73 416.6,596.73 416.6,628.55 443.2,628.55" fill="none" stroke="#000" stroke-width="1.2"/>
<polyline points="412,546.35 397.5,546.35 397.5,612.64 416.6,612.64" fill="none" stroke="#000" stroke-width="1.2"/>
<polyline points="460.4,640.92 442.2,640.92 442.2,647.99 460.4,647.99" fill="none" stroke="#000" stroke-width="1.2"/>
<polyline points="442.2,644.46 426,644.46 426,655.06 460.4,655.06" fill="none" stroke="#000" stroke-width="1.2"/>
<polyline points="397.5,579.5 377.1,579.5 377.1,649.76 426,649.76" fill="none" stroke="#000" stroke-width="1.2"/>
<text x="0" y="0" text-anchor="middle" style="font-size:11px;" transform="translate(391.2 614.4) rotate(-90) scale(1 1.03)">Batch</text>
</svg>
</body></html>
